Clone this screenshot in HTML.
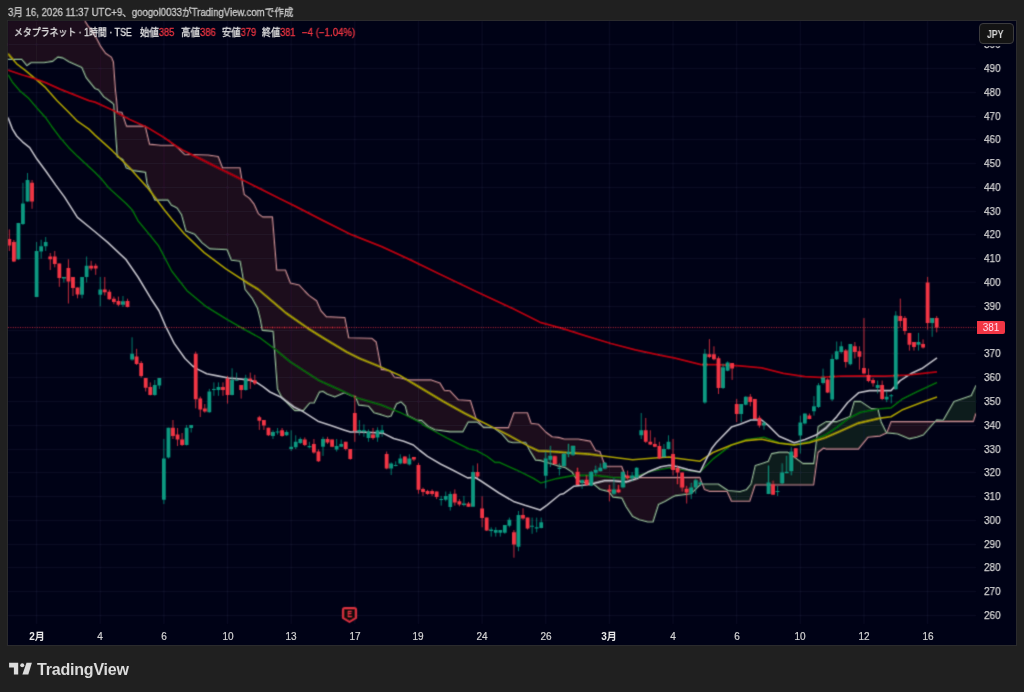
<!DOCTYPE html>
<html><head><meta charset="utf-8"><title>Metaplanet 1h</title>
<style>
html,body{margin:0;padding:0;}
.cap,.hs,.yl,.xl,.jpyt,.pl,.logo{will-change:transform;}
body{width:1024px;height:692px;background:#202020;position:relative;overflow:hidden;font-family:"Liberation Sans","Noto Sans CJK JP",sans-serif;}
.cap{position:absolute;left:8px;top:6px;font-size:10.5px;line-height:12px;color:#c8c8c8;-webkit-text-stroke:0.3px #c8c8c8;white-space:nowrap;transform:scaleX(0.914);transform-origin:0 0;}
.frame{position:absolute;left:7px;top:20px;width:1008px;height:624px;border:1px solid #2b2b2d;background:#000216;}
.hs{position:absolute;top:26.8px;font-size:10px;line-height:12px;color:#e0e0e0;-webkit-text-stroke:0.3px currentColor;white-space:nowrap;transform-origin:0 0;}
.v{color:#e83440;}
.yl{position:absolute;left:983.6px;font-size:10.5px;line-height:13px;color:#d4d4d4;transform:scaleX(0.95);transform-origin:0 0;-webkit-text-stroke:0.25px #d4d4d4;}
.xl{position:absolute;top:629.5px;width:40px;text-align:center;font-size:10px;line-height:13px;color:#d4d4d4;-webkit-text-stroke:0.2px #d4d4d4;}
.xl.b{font-weight:bold;color:#e8e8e8;-webkit-text-stroke:0;}
.jpy{position:absolute;left:979px;top:23px;width:33px;height:19px;border:1px solid #3c3c3e;border-radius:4px;background:#141414;}
.jpyt{position:absolute;left:986.6px;top:28.5px;color:#d8d8d8;font-size:10px;font-weight:bold;line-height:12px;transform:scaleX(0.87);transform-origin:0 0;}
.pl{position:absolute;left:977px;top:321px;width:28px;height:13px;background:#f23645;border-radius:0 2px 2px 0;color:#fde;font-size:10px;line-height:13px;text-align:center;}
.logo{position:absolute;left:37px;top:661px;font-size:16px;font-weight:bold;color:#dcdcdc;letter-spacing:-0.2px;}
</style></head><body>
<div class="cap">3月 16, 2026 11:37 UTC+9、googol0033がTradingView.comで作成</div>
<div class="frame"></div>
<svg width="1024" height="692" viewBox="0 0 1024 692" style="position:absolute;left:0;top:0">
<defs><clipPath id="pc"><rect x="8" y="21" width="968" height="603"/></clipPath><filter id="bl" x="0" y="0" width="1024" height="692" filterUnits="userSpaceOnUse"><feConvolveMatrix order="3" kernelMatrix="0.03 0.1 0.03 0.1 0.48 0.1 0.03 0.1 0.03" edgeMode="duplicate"/></filter></defs><g filter="url(#bl)">
<g clip-path="url(#pc)">
<path d="M8 0 L8.5 0 L9 0 L9.5 0 L10 0 L10.5 0 L11 0 L11.5 0 L12 0 L12.5 0 L13 0 L13.5 0 L14 0 L14.5 0 L15 0 L15.5 0 L16 0 L16.5 0 L17 0 L17.5 0 L18 0 L18.5 0 L19 0 L19.5 0 L20 0 L20.5 0 L21 0 L21.5 0 L22 0 L22.5 0 L23 0 L23.5 0 L24 0 L24.5 0 L25 0 L25.5 0 L26 0 L26.5 0 L27 0 L27.5 0 L28 0 L28.5 0 L29 0 L29.5 0 L30 0 L30.5 0 L31 0 L31.5 0 L32 0 L32.5 0 L33 0 L33.5 0 L34 0 L34.5 0 L35 0 L35.5 0 L36 0 L36.5 0 L37 0 L37.5 0 L38 0 L38.5 0 L39 0 L39.5 0 L40 0 L40.5 0 L41 0 L41.5 0 L42 0 L42.5 0 L43 0 L43.5 0 L44 0 L44.5 0 L45 0 L45.5 0 L46 0 L46.5 0 L47 0 L47.5 0 L48 0 L48.5 0 L49 0 L49.5 0 L50 0 L50.5 0 L51 0 L51.5 0 L52 0 L52.5 0 L53 0 L53.5 0 L54 0 L54.5 0 L55 0 L55.5 0 L56 0 L56.5 0 L57 0 L57.5 0 L58 0 L58.5 0 L59 0 L59.5 0 L60 0 L60.5 0 L61 0 L61.5 0 L62 0 L62.5 0 L63 0 L63.5 0 L64 0 L64.5 0 L65 0 L65.5 0 L66 0 L66.5 0 L67 0 L67.5 0 L68 0 L68.5 0 L69 0 L69.5 0 L70 0 L70.5 0 L71 0 L71.5 0 L72 0 L72.5 0 L73 0 L73.5 0 L74 0 L74.5 0 L75 0 L75.5 0 L76 0 L76.5 0 L77 0 L77.5 0 L78 0 L78.5 0 L79 0 L79.5 0 L80 0 L80.5 2.06 L81 4.12 L81.5 6.18 L82 8.24 L82.5 10.29 L83 12.35 L83.5 14.41 L84 16.47 L84.5 18.53 L85 20.59 L85.5 21.65 L86 22.47 L86.5 23.29 L87 24.1 L87.5 24.92 L88 25.74 L88.5 26.37 L89 26.96 L89.5 27.54 L90 28.13 L90.5 28.71 L91 29.3 L91.5 29.89 L92 30.47 L92.5 31.06 L93 31.64 L93.5 32.23 L94 32.9 L94.5 33.9 L95 34.9 L95.5 35.9 L96 36.9 L96.5 37.9 L97 38.9 L97.5 39.9 L98 40.89 L98.5 41.88 L99 42.86 L99.5 43.84 L100 44.83 L100.5 45.81 L101 46.68 L101.5 47.37 L102 48.07 L102.5 48.76 L103 49.45 L103.5 50.15 L104 50.84 L104.5 51.53 L105 52.23 L105.5 52.92 L106 53.4 L106.5 53.74 L107 54.07 L107.5 54.41 L108 54.75 L108.5 55.08 L109 55.42 L109.5 55.76 L110 56.09 L110.5 56.43 L111 56.76 L111.5 57.1 L112 58.33 L112.5 59.55 L113 60.77 L113.5 62 L114 69 L114.5 76 L115 83 L115.5 90 L116 94.33 L116.5 98.67 L117 104.64 L117.5 111.7 L118 111.76 L118.5 111.81 L119 111.87 L119.5 111.93 L120 111.98 L120.5 112.04 L121 112.1 L121.5 112.15 L122 112.5 L122.5 113.97 L123 115.45 L123.5 116.93 L124 118.41 L124.5 119.89 L125 121.37 L125.5 122.85 L126 124.33 L126.5 125.8 L127 126.1 L127.5 126.1 L128 126.1 L128.5 126.1 L129 126.1 L129.5 126.1 L130 126.1 L130.5 126.1 L131 126.1 L131.5 126.1 L132 126.1 L132.5 126.1 L133 126.1 L133.5 126.1 L134 126.1 L134.5 126.1 L135 126.1 L135.5 126.1 L136 126.1 L136.5 126.1 L137 126.1 L137.5 126.1 L138 126.1 L138.5 126.1 L139 126.1 L139.5 126.1 L140 126.1 L140.5 126.1 L141 126.1 L141.5 126.1 L142 126.1 L142.5 126.1 L143 126.1 L143.5 126.1 L144 126.1 L144.5 126.1 L145 126.1 L145.5 126.94 L146 129.03 L146.5 131.12 L147 133.22 L147.5 135.31 L148 137.4 L148.5 139.5 L149 141.59 L149.5 143.68 L150 144.14 L150.5 144.19 L151 144.24 L151.5 144.28 L152 144.33 L152.5 144.38 L153 144.43 L153.5 144.48 L154 144.53 L154.5 144.58 L155 144.63 L155.5 144.67 L156 144.72 L156.5 144.77 L157 144.82 L157.5 144.87 L158 144.92 L158.5 144.97 L159 145.02 L159.5 145.06 L160 145.11 L160.5 145.16 L161 145.2 L161.5 145.2 L162 145.2 L162.5 145.2 L163 145.2 L163.5 145.2 L164 145.2 L164.5 145.2 L165 145.2 L165.5 145.2 L166 145.2 L166.5 145.2 L167 145.2 L167.5 145.2 L168 145.2 L168.5 145.2 L169 145.2 L169.5 145.2 L170 145.2 L170.5 145.2 L171 145.2 L171.5 145.2 L172 145.2 L172.5 145.2 L173 145.2 L173.5 145.2 L174 145.2 L174.5 145.2 L175 145.2 L175.5 145.67 L176 146.14 L176.5 146.61 L177 147.08 L177.5 147.55 L178 148.01 L178.5 148.48 L179 148.95 L179.5 149.42 L180 149.89 L180.5 150.36 L181 150.83 L181.5 151.3 L182 151.77 L182.5 152.24 L183 152.71 L183.5 153.17 L184 153.64 L184.5 154.11 L185 154.31 L185.5 154.32 L186 154.34 L186.5 154.35 L187 154.37 L187.5 154.38 L188 154.4 L188.5 154.41 L189 154.43 L189.5 154.44 L190 154.46 L190.5 154.47 L191 154.49 L191.5 154.5 L192 154.51 L192.5 154.53 L193 154.54 L193.5 154.56 L194 154.57 L194.5 154.59 L195 154.6 L195.5 154.62 L196 154.63 L196.5 154.65 L197 154.66 L197.5 154.68 L198 154.69 L198.5 154.71 L199 154.72 L199.5 154.74 L200 154.75 L200.5 154.76 L201 154.78 L201.5 154.79 L202 154.81 L202.5 154.82 L203 154.84 L203.5 154.85 L204 154.87 L204.5 154.88 L205 154.9 L205.5 154.91 L206 154.93 L206.5 154.94 L207 154.96 L207.5 154.97 L208 154.99 L208.5 155 L209 155.08 L209.5 155.15 L210 155.23 L210.5 155.31 L211 155.38 L211.5 155.46 L212 155.54 L212.5 155.61 L213 155.69 L213.5 155.77 L214 155.84 L214.5 155.92 L215 155.99 L215.5 156.07 L216 156.15 L216.5 156.22 L217 156.3 L217.5 156.38 L218 156.45 L218.5 157.02 L219 158.32 L219.5 159.63 L220 160.93 L220.5 162.23 L221 163.53 L221.5 164.83 L222 166.14 L222.5 167.44 L223 167.7 L223.5 167.7 L224 167.7 L224.5 167.7 L225 167.7 L225.5 167.7 L226 167.7 L226.5 167.7 L227 167.7 L227.5 167.7 L228 167.7 L228.5 167.7 L229 167.7 L229.5 167.7 L230 167.7 L230.5 167.7 L231 167.7 L231.5 167.7 L232 167.7 L232.5 167.7 L233 167.7 L233.5 167.7 L234 167.7 L234.5 167.7 L235 167.7 L235.5 167.7 L236 167.7 L236.5 167.7 L237 167.7 L237.5 167.7 L238 167.7 L238.5 167.7 L239 167.7 L239.5 167.7 L240 167.7 L240.5 170.8 L241 173.91 L241.5 177.01 L242 180.12 L242.5 183.22 L243 186.33 L243.5 189.43 L244 192.54 L244.5 194.55 L245 194.92 L245.5 195.29 L246 195.66 L246.5 196.03 L247 196.4 L247.5 196.77 L248 197.14 L248.5 197.51 L249 197.88 L249.5 198.25 L250 198.78 L250.5 199.4 L251 200.03 L251.5 200.66 L252 201.29 L252.5 201.92 L253 202.54 L253.5 203.17 L254 203.8 L254.5 204.91 L255 206.03 L255.5 207.14 L256 208.25 L256.5 209.37 L257 210.48 L257.5 211.6 L258 212.71 L258.5 213.68 L259 214.06 L259.5 214.44 L260 214.83 L260.5 215.21 L261 215.6 L261.5 215.98 L262 216.36 L262.5 216.75 L263 216.9 L263.5 216.9 L264 216.9 L264.5 216.9 L265 216.9 L265.5 216.9 L266 216.9 L266.5 216.9 L267 216.9 L267.5 216.9 L268 216.9 L268.5 216.9 L269 216.9 L269.5 216.9 L270 216.9 L270.5 216.9 L271 216.9 L271.5 216.9 L272 216.9 L272.5 216.9 L273 223.07 L273.5 229.25 L274 235.42 L274.5 241.6 L275 247.77 L275.5 253.95 L276 260.12 L276.5 266.3 L277 270 L277.5 270 L278 270 L278.5 270 L279 270 L279.5 270 L280 270 L280.5 270 L281 270 L281.5 270 L282 270 L282.5 270 L283 270 L283.5 270 L284 270 L284.5 270 L285 270 L285.5 270 L286 271.3 L286.5 272.6 L287 273.9 L287.5 275.2 L288 276.5 L288.5 277.8 L289 279.1 L289.5 280.4 L290 281.7 L290.5 283 L291 283.11 L291.5 283.23 L292 283.34 L292.5 283.45 L293 283.57 L293.5 283.68 L294 283.8 L294.5 283.91 L295 284.02 L295.5 284.14 L296 284.25 L296.5 284.36 L297 284.48 L297.5 284.59 L298 284.7 L298.5 284.82 L299 284.93 L299.5 285.22 L300 285.76 L300.5 286.31 L301 286.85 L301.5 287.4 L302 287.95 L302.5 288.49 L303 289.04 L303.5 289.58 L304 290.13 L304.5 290.67 L305 291.2 L305.5 291.72 L306 292.23 L306.5 292.74 L307 293.25 L307.5 293.76 L308 294.27 L308.5 294.79 L309 295.3 L309.5 295.68 L310 296.04 L310.5 296.39 L311 296.75 L311.5 297.11 L312 297.46 L312.5 297.82 L313 298.17 L313.5 298.53 L314 298.88 L314.5 299.24 L315 299.59 L315.5 299.95 L316 300.3 L316.5 300.66 L317 301.48 L317.5 302.62 L318 303.76 L318.5 304.9 L319 306.04 L319.5 307.18 L320 308.32 L320.5 309.46 L321 310.6 L321.5 311.16 L322 311.71 L322.5 312.27 L323 312.82 L323.5 313.38 L324 313.93 L324.5 314.49 L325 315.04 L325.5 315.6 L326 316.16 L326.5 316.6 L327 316.63 L327.5 316.65 L328 316.68 L328.5 316.7 L329 316.73 L329.5 316.75 L330 316.78 L330.5 316.8 L331 316.82 L331.5 316.85 L332 316.87 L332.5 316.9 L333 316.92 L333.5 316.95 L334 316.97 L334.5 316.99 L335 317.02 L335.5 317.04 L336 317.07 L336.5 317.09 L337 317.12 L337.5 317.14 L338 317.16 L338.5 317.19 L339 317.21 L339.5 317.24 L340 317.26 L340.5 317.29 L341 317.31 L341.5 317.33 L342 317.36 L342.5 317.38 L343 317.41 L343.5 317.43 L344 317.46 L344.5 317.48 L345 318.02 L345.5 320.61 L346 323.2 L346.5 325.79 L347 328.38 L347.5 330.97 L348 333.56 L348.5 336.15 L349 337.71 L349.5 337.72 L350 337.73 L350.5 337.74 L351 337.76 L351.5 337.77 L352 337.78 L352.5 337.8 L353 337.81 L353.5 337.82 L354 337.83 L354.5 337.85 L355 337.86 L355.5 337.87 L356 337.89 L356.5 337.9 L357 337.91 L357.5 337.93 L358 337.94 L358.5 337.95 L359 337.96 L359.5 337.98 L360 337.99 L360.5 338 L361 338.02 L361.5 338.03 L362 338.04 L362.5 338.05 L363 338.07 L363.5 338.08 L364 338.09 L364.5 338.11 L365 338.12 L365.5 338.13 L366 338.14 L366.5 338.16 L367 338.17 L367.5 338.18 L368 338.2 L368.5 338.21 L369 338.22 L369.5 338.24 L370 338.25 L370.5 338.26 L371 338.27 L371.5 338.29 L372 338.3 L372.5 338.73 L373 339.16 L373.5 339.59 L374 340.02 L374.5 340.45 L375 340.88 L375.5 341.31 L376 341.74 L376.5 343.07 L377 345.76 L377.5 348.45 L378 351.13 L378.5 353.82 L379 356.51 L379.5 359.19 L380 361.88 L380.5 364.56 L381 367.25 L381.5 369.41 L382 369.48 L382.5 369.54 L383 369.6 L383.5 369.67 L384 369.73 L384.5 369.8 L385 369.86 L385.5 369.92 L386 369.99 L386.5 370.05 L387 370.12 L387.5 370.18 L388 370.24 L388.5 370.31 L389 370.37 L389.5 370.44 L390 370.5 L390.5 371.24 L391 371.98 L391.5 372.72 L392 373.45 L392.5 374.19 L393 374.93 L393.5 375.67 L394 376.41 L394.5 377.02 L395 377.09 L395.5 377.17 L396 377.25 L396.5 377.32 L397 377.4 L397.5 377.48 L398 377.55 L398.5 377.63 L399 377.71 L399.5 377.78 L400 377.86 L400.5 377.94 L401 378.02 L401.5 378.15 L402 378.27 L402.5 378.39 L403 378.51 L403.5 378.63 L404 378.76 L404.5 378.88 L405 379 L405.5 379.12 L406 379.24 L406.5 379.36 L407 379.49 L407.5 379.61 L408 379.73 L408.5 379.85 L409 379.9 L409.5 379.9 L410 379.9 L410.5 379.9 L411 379.9 L411.5 379.9 L412 379.9 L412.5 379.9 L413 379.9 L413.5 379.9 L414 379.9 L414.5 379.9 L415 379.9 L415.5 379.9 L416 379.9 L416.5 379.9 L417 379.9 L417.5 379.9 L418 379.9 L418.5 379.9 L419 379.9 L419.5 379.9 L420 379.9 L420.5 379.9 L421 379.9 L421.5 379.9 L422 379.9 L422.5 379.9 L423 379.9 L423.5 379.9 L424 379.9 L424.5 379.9 L425 379.9 L425.5 379.9 L426 379.9 L426.5 379.9 L427 379.9 L427.5 379.9 L428 379.9 L428.5 379.9 L429 379.9 L429.5 379.9 L430 379.9 L430.5 379.9 L431 379.9 L431.5 379.94 L432 380.12 L432.5 380.3 L433 380.49 L433.5 380.67 L434 380.86 L434.5 381.04 L435 381.22 L435.5 381.41 L436 381.59 L436.5 381.78 L437 381.96 L437.5 382.14 L438 382.33 L438.5 382.51 L439 382.7 L439.5 382.88 L440 383.06 L440.5 383.77 L441 384.61 L441.5 385.44 L442 386.28 L442.5 387.12 L443 387.96 L443.5 388.79 L444 389.63 L444.5 390.31 L445 390.34 L445.5 390.38 L446 390.42 L446.5 390.45 L447 390.49 L447.5 390.53 L448 390.56 L448.5 390.6 L449 390.63 L449.5 390.67 L450 390.81 L450.5 391.33 L451 391.86 L451.5 392.39 L452 392.92 L452.5 393.45 L453 393.98 L453.5 394.51 L454 395.04 L454.5 395.57 L455 396.1 L455.5 396.63 L456 397.15 L456.5 397.68 L457 398.21 L457.5 398.74 L458 399.27 L458.5 399.8 L459 399.83 L459.5 399.86 L460 399.89 L460.5 399.92 L461 399.95 L461.5 399.98 L462 400 L462.5 400.03 L463 400.06 L463.5 400.09 L464 400.12 L464.5 400.15 L465 400.18 L465.5 400.21 L466 400.24 L466.5 400.27 L467 400.3 L467.5 400.32 L468 400.35 L468.5 400.38 L469 400.41 L469.5 400.44 L470 400.47 L470.5 400.5 L471 402.1 L471.5 403.7 L472 405.31 L472.5 406.91 L473 408.51 L473.5 410.11 L474 411.71 L474.5 413.31 L475 414.92 L475.5 416.52 L476 417.93 L476.5 418.57 L477 419.22 L477.5 419.86 L478 420.51 L478.5 421.15 L479 421.8 L479.5 422.44 L480 423.09 L480.5 423.73 L481 424.38 L481.5 425.02 L482 425.67 L482.5 426.31 L483 426.96 L483.5 427.6 L484 427.6 L484.5 427.6 L485 427.6 L485.5 427.6 L486 427.6 L486.5 427.6 L487 427.6 L487.5 427.6 L488 427.6 L488.5 427.6 L489 427.6 L489.5 427.6 L490 427.6 L490.5 427.6 L491 427.6 L491.5 427.6 L492 427.6 L492.5 427.6 L493 427.6 L493.5 427.6 L494 427.6 L494.5 427.6 L495 427.6 L495.5 427.6 L496 427.6 L496.5 427.6 L497 427.6 L497.5 427.6 L498 427.6 L498.5 427.6 L499 427.6 L499.5 427.6 L500 427.6 L500.5 427.6 L501 427.6 L501.5 427.6 L502 427.6 L502.5 427.6 L503 427.6 L503.5 427.6 L504 427.6 L504.5 427.6 L505 427.6 L505.5 427.6 L506 427.6 L506.5 427.6 L507 427.6 L507.5 427.6 L508 427.6 L508.5 427.33 L509 425.96 L509.5 424.59 L510 423.21 L510.5 421.84 L511 420.47 L511.5 419.1 L512 417.73 L512.5 416.36 L513 414.99 L513.5 413.62 L514 412.8 L514.5 412.8 L515 412.8 L515.5 412.8 L516 412.8 L516.5 412.8 L517 412.8 L517.5 412.8 L518 412.8 L518.5 412.8 L519 412.8 L519.5 412.8 L520 412.8 L520.5 412.8 L521 412.8 L521.5 412.8 L522 412.8 L522.5 412.8 L523 412.8 L523.5 412.8 L524 412.8 L524.5 412.8 L525 412.8 L525.5 412.8 L526 412.8 L526.5 412.8 L527 412.8 L527.5 412.8 L528 414.21 L528.5 415.61 L529 417.02 L529.5 418.42 L530 419.83 L530.5 421.23 L531 422.64 L531.5 423.24 L532 423.32 L532.5 423.39 L533 423.46 L533.5 423.54 L534 423.61 L534.5 423.68 L535 423.76 L535.5 423.83 L536 423.9 L536.5 423.98 L537 424.05 L537.5 424.12 L538 424.2 L538.5 424.27 L539 424.63 L539.5 425.17 L540 425.71 L540.5 426.25 L541 426.79 L541.5 427.34 L542 427.88 L542.5 428.42 L543 428.96 L543.5 429.51 L544 430.05 L544.5 430.59 L545 431.13 L545.5 431.67 L546 432.15 L546.5 432.52 L547 432.89 L547.5 433.26 L548 433.62 L548.5 433.99 L549 434.36 L549.5 434.73 L550 435.1 L550.5 435.47 L551 435.84 L551.5 436.21 L552 436.58 L552.5 436.82 L553 436.86 L553.5 436.91 L554 436.96 L554.5 437 L555 437.05 L555.5 437.1 L556 437.14 L556.5 437.19 L557 437.23 L557.5 437.28 L558 437.33 L558.5 437.37 L559 437.46 L559.5 437.6 L560 437.75 L560.5 437.89 L561 438.04 L561.5 438.19 L562 438.33 L562.5 438.48 L563 438.62 L563.5 438.77 L564 438.91 L564.5 439 L565 439 L565.5 439 L566 439 L566.5 439 L567 439 L567.5 439 L568 439 L568.5 439 L569 439 L569.5 439 L570 439 L570.5 439 L571 439 L571.5 439 L572 439 L572.5 439 L573 439 L573.5 439 L574 439 L574.5 439 L575 439 L575.5 439 L576 439 L576.5 439 L577 439 L577.5 439 L578 439 L578.5 439.02 L579 439.11 L579.5 439.19 L580 439.28 L580.5 439.37 L581 439.46 L581.5 439.55 L582 439.64 L582.5 439.72 L583 439.81 L583.5 439.9 L584 439.99 L584.5 440.08 L585 440.16 L585.5 440.25 L586 440.34 L586.5 440.43 L587 440.52 L587.5 440.61 L588 440.69 L588.5 440.78 L589 440.87 L589.5 440.96 L590 441.05 L590.5 441.45 L591 442.32 L591.5 443.19 L592 444.06 L592.5 444.93 L593 445.8 L593.5 446.67 L594 447.54 L594.5 448.41 L595 449.28 L595.5 450.15 L596 450.57 L596.5 450.69 L597 450.8 L597.5 450.92 L598 451.03 L598.5 451.15 L599 451.27 L599.5 451.38 L600 451.5 L600.5 452.9 L601 454.29 L601.5 455.69 L602 457.09 L602.5 458.49 L603 459.88 L603.5 461.28 L604 462.55 L604.5 463.3 L605 464.05 L605.5 464.8 L606 465.55 L606.5 466.3 L607 466.3 L607.5 466.3 L608 466.3 L608.5 466.3 L609 466.3 L609.5 466.3 L610 466.3 L610.5 466.3 L611 466.3 L611.5 466.3 L612 466.3 L612.5 466.3 L613 466.3 L613.5 466.3 L614 466.3 L614.5 466.3 L615 466.3 L615.5 466.3 L616 466.3 L616.5 466.3 L617 466.3 L617.5 466.3 L618 466.3 L618.5 466.3 L619 466.3 L619.5 466.3 L620 466.3 L620.5 466.3 L621 466.3 L621.5 466.3 L622 467.08 L622.5 468.38 L623 469.69 L623.5 470.99 L624 472.29 L624.5 473.59 L625 474.9 L625.5 476.2 L626 477.5 L626.5 477.5 L627 477.5 L627.5 477.5 L628 477.5 L628.5 477.5 L629 477.5 L629.5 477.5 L630 477.49 L630.5 477.49 L631 477.49 L631.5 477.49 L632 477.49 L632.5 477.49 L633 477.49 L633.5 477.49 L634 477.49 L634.5 477.49 L635 477.49 L635.5 477.49 L636 477.49 L636.5 477.49 L637 477.49 L637.5 477.48 L638 477.48 L638.5 477.48 L639 477.48 L639.5 477.48 L640 477.48 L640.5 477.48 L641 477.48 L641.5 477.48 L642 477.48 L642.5 477.48 L643 477.48 L643.5 477.48 L644 477.48 L644.5 477.47 L645 477.47 L645.5 477.47 L646 477.47 L646.5 477.47 L647 477.47 L647.5 477.47 L648 477.47 L648.5 477.47 L649 477.47 L649.5 477.47 L650 477.47 L650.5 477.47 L651 477.47 L651.5 477.47 L652 477.46 L652.5 477.46 L653 477.46 L653.5 477.46 L654 477.46 L654.5 477.46 L655 477.46 L655.5 477.46 L656 477.46 L656.5 477.46 L657 477.46 L657.5 477.46 L658 477.46 L658.5 477.46 L659 477.46 L659.5 477.45 L660 477.45 L660.5 477.45 L661 477.45 L661.5 477.45 L662 477.45 L662.5 477.45 L663 477.45 L663.5 477.45 L664 477.45 L664.5 477.45 L665 477.45 L665.5 477.45 L666 477.45 L666.5 477.45 L667 477.44 L667.5 477.44 L668 477.44 L668.5 477.44 L669 477.44 L669.5 477.44 L670 477.44 L670.5 477.44 L671 477.44 L671.5 477.44 L672 477.44 L672.5 477.44 L673 477.44 L673.5 477.44 L674 477.44 L674.5 477.43 L675 477.43 L675.5 477.43 L676 477.43 L676.5 477.43 L677 477.43 L677.5 477.43 L678 477.43 L678.5 477.43 L679 477.43 L679.5 477.43 L680 477.43 L680.5 477.43 L681 477.43 L681.5 477.42 L682 477.42 L682.5 477.42 L683 477.42 L683.5 477.42 L684 477.42 L684.5 477.42 L685 477.42 L685.5 477.42 L686 477.42 L686.5 477.42 L687 477.42 L687.5 477.42 L688 477.42 L688.5 477.42 L689 477.41 L689.5 477.41 L690 477.41 L690.5 477.41 L691 477.41 L691.5 477.41 L692 477.41 L692.5 477.41 L693 477.41 L693.5 477.41 L694 477.41 L694.5 477.41 L695 477.41 L695.5 477.41 L696 477.41 L696.5 477.4 L697 477.4 L697.5 477.4 L698 477.4 L698.5 477.4 L699 477.4 L699.5 477.4 L700 477.67 L700.5 479.04 L701 480.4 L701.5 481.76 L702 483.13 L702.5 484.49 L703 485.85 L703.5 487.22 L704 488.58 L704.5 489.48 L705 489.67 L705.5 489.87 L706 490.06 L706.5 490.26 L707 490.45 L707.5 490.64 L708 490.84 L708.5 491.03 L709 491.23 L709.5 491.42 L710 491.5 L710.5 491.5 L711 491.5 L711.5 491.5 L712 491.5 L712.5 491.5 L713 491.5 L713.5 491.5 L714 491.5 L714.5 491.5 L715 491.5 L715.5 491.5 L716 491.5 L716.5 491.5 L717 491.5 L717.5 491.5 L718 491.5 L718.5 491.5 L719 491.5 L719.5 491.5 L720 491.5 L720.5 491.5 L721 491.5 L721.5 491.5 L722 491.5 L722.5 491.5 L723 491.5 L723.5 491.5 L724 491.5 L724.5 491.5 L725 491.5 L725.5 491.5 L726 491.5 L726.5 491.5 L727 491.5 L727.5 492.61 L728 493.73 L728.5 494.84 L729 495.95 L729.5 497.07 L730 498.18 L730.5 499.3 L731 500.41 L731.5 501.3 L732 501.3 L732.5 501.3 L733 501.3 L733.5 501.3 L734 501.3 L734.5 501.3 L735 501.3 L735.5 501.3 L736 501.3 L736.5 501.3 L737 501.3 L737.5 501.3 L738 501.3 L738.5 501.3 L739 501.3 L739.5 501.3 L740 501.3 L740.5 501.3 L741 501.3 L741.5 501.3 L742 501.3 L742.5 501.3 L743 501.3 L743.5 501.3 L744 501.3 L744.5 501.3 L745 501.3 L745.5 501.3 L746 501.3 L746.5 501.3 L747 501.3 L747.5 501.3 L748 501.3 L748.5 501.3 L749 501.3 L749.5 501.3 L750 500.7 L750.5 499.19 L751 497.68 L751.5 496.17 L752 494.66 L752.5 493.15 L753 491.64 L753.5 490.13 L754 488.62 L754.5 487.11 L755 485.6 L755.5 485 L756 485 L756.5 485 L757 485 L757.5 485 L758 485 L758.5 485 L759 485 L759.5 485 L760 485 L760.5 485 L761 485 L761.5 485 L762 485 L762.5 485 L763 485 L763.5 485 L764 485 L764.5 485 L765 485 L765.5 485 L766 485 L766.5 485 L767 485 L767.5 485 L768 485 L768.5 485 L769 485 L769.5 485 L770 485 L770.5 485 L771 485 L771.5 485 L772 485 L772.5 485 L773 485 L773.5 485 L774 485 L774.5 485 L775 485 L775.5 485 L776 485 L776.5 485 L777 485 L777.5 485 L778 485 L778.5 485 L779 485 L779.5 485 L780 485 L780.5 485 L781 485 L781.5 485 L782 485 L782.5 485 L783 485 L783.5 485 L784 485 L784.5 485 L785 485 L785.5 485 L786 485 L786.5 485 L787 485 L787.5 485 L788 485 L788.5 485 L789 485 L789.5 485 L790 485 L790.5 485 L791 485 L791.5 485 L792 485 L792.5 485 L793 485 L793.5 485 L794 485 L794.5 485 L795 485 L795.5 485 L796 485 L796.5 485 L797 485 L797.5 485 L798 485 L798.5 485 L799 485 L799.5 485 L800 485 L800.5 485 L801 485 L801.5 485 L802 485 L802.5 485 L803 485 L803.5 485 L804 485 L804.5 485 L805 485 L805.5 485 L806 485 L806.5 485 L807 485 L807.5 485 L808 485 L808.5 485 L809 485 L809.5 485 L810 485 L810.5 485 L811 485 L811.5 485 L812 485 L812.5 485 L813 485 L813.5 485 L814 482.78 L814.5 479.09 L815 475.4 L815.5 471.7 L816 468.01 L816.5 464.32 L817 460.63 L817.5 456.93 L818 453.24 L818.5 452.18 L819 451.78 L819.5 451.39 L820 450.99 L820.5 450.59 L821 450.19 L821.5 449.79 L822 449.39 L822.5 449 L823 448.6 L823.5 448.2 L824 448.38 L824.5 448.56 L825 448.74 L825.5 448.92 L826 449.1 L826.5 449.1 L827 449.1 L827.5 449.1 L828 449.1 L828.5 449.1 L829 449.1 L829.5 449.1 L830 449.1 L830.5 449.1 L831 449.1 L831.5 449.1 L832 449.1 L832.5 449.1 L833 449.1 L833.5 449.1 L834 449.1 L834.5 449.1 L835 449.1 L835.5 449.1 L836 449.1 L836.5 449.1 L837 449.1 L837.5 449.1 L838 449.1 L838.5 449.1 L839 449.1 L839.5 449.1 L840 449.1 L840.5 449.1 L841 449.1 L841.5 449.1 L842 449.1 L842.5 449.1 L843 449.1 L843.5 449.1 L844 449.1 L844.5 449.1 L845 449.1 L845.5 449.1 L846 449.1 L846.5 449.1 L847 449.1 L847.5 449.1 L848 449.1 L848.5 449.1 L849 449.1 L849.5 449.1 L850 449.1 L850.5 449.1 L851 449.1 L851.5 449.1 L852 449.1 L852.5 449.1 L853 449.1 L853.5 449.1 L854 449.1 L854.5 449.1 L855 449.1 L855.5 449.1 L856 449.1 L856.5 449.1 L857 449.1 L857.5 449.1 L858 449.1 L858.5 449.1 L859 448.49 L859.5 447.89 L860 447.28 L860.5 446.67 L861 446.06 L861.5 445.46 L862 444.85 L862.5 444.24 L863 443.64 L863.5 443.03 L864 442.42 L864.5 441.81 L865 441.21 L865.5 440.6 L866 439.99 L866.5 439.39 L867 438.78 L867.5 438.17 L868 437.56 L868.5 437.18 L869 437.14 L869.5 437.09 L870 437.04 L870.5 437 L871 436.95 L871.5 436.9 L872 436.86 L872.5 436.81 L873 436.77 L873.5 436.72 L874 436.67 L874.5 436.63 L875 436.58 L875.5 436.53 L876 436.49 L876.5 436.44 L877 436.4 L877.5 436.35 L878 436.3 L878.5 436.26 L879 436.21 L879.5 436.16 L880 436.12 L880.5 435.95 L881 435.71 L881.5 435.46 L882 435.21 L882.5 434.97 L883 434.72 L883.5 434.48 L884 434.23 L884.5 433.98 L885 433.74 L885.5 433.49 L886 433.24 L886.5 433 L887 432.11 L887.5 430.8 L888 429.48 L888.5 428.17 L889 426.86 L889.5 425.54 L890 424.23 L890.5 422.91 L891 421.6 L891.5 421.6 L892 421.6 L892.5 421.6 L893 421.6 L893.5 421.6 L894 421.6 L894.5 421.6 L895 421.6 L895.5 421.6 L896 421.6 L896.5 421.6 L897 421.6 L897.5 421.6 L898 421.6 L898.5 421.6 L899 421.6 L899.5 421.6 L900 421.6 L900.5 421.6 L901 421.6 L901.5 421.6 L902 421.6 L902.5 421.6 L903 421.6 L903.5 421.6 L904 421.6 L904.5 421.6 L905 421.6 L905.5 421.6 L906 421.6 L906.5 421.6 L907 421.6 L907.5 421.6 L908 421.6 L908.5 421.6 L909 421.6 L909.5 421.6 L910 421.6 L910.5 421.6 L911 421.6 L911.5 421.6 L912 421.6 L912.5 421.6 L913 421.6 L913.5 421.6 L914 421.6 L914.5 421.6 L915 421.6 L915.5 421.6 L916 421.6 L916.5 421.6 L917 421.6 L917.5 421.6 L918 421.6 L918.5 421.6 L919 421.6 L919.5 421.6 L920 421.6 L920.5 421.6 L921 421.6 L921.5 421.6 L922 421.6 L922.5 421.6 L923 421.6 L923.5 421.6 L924 421.6 L924.5 421.6 L925 421.6 L925.5 421.6 L926 421.6 L926.5 421.6 L927 421.6 L927.5 421.6 L928 421.6 L928.5 421.6 L929 421.6 L929.5 421.6 L930 421.6 L930.5 421.6 L931 421.6 L931.5 421.6 L932 421.6 L932.5 421.6 L933 421.6 L933.5 421.6 L934 421.6 L934.5 421.6 L935 421.6 L935.5 421.6 L936 421.6 L936.5 421.6 L937 421.6 L937.5 421.6 L938 421.6 L938.5 421.6 L939 421.6 L939.5 421.6 L940 421.6 L940.5 421.6 L941 421.6 L941.5 421.6 L942 421.6 L942.5 421.6 L943 421.6 L943.5 421.6 L944 421.6 L944.5 421.6 L945 421.6 L945.5 421.6 L946 421.6 L946.5 421.6 L947 421.6 L947.5 421.6 L948 421.6 L948.5 421.6 L949 421.6 L949.5 421.6 L950 421.6 L950.5 421.6 L951 421.6 L951.5 421.6 L952 421.6 L952.5 421.6 L953 421.6 L953.5 421.6 L954 421.6 L954.5 421.6 L955 421.6 L955.5 421.6 L956 421.6 L956.5 421.6 L957 421.6 L957.5 421.6 L958 421.6 L958.5 421.6 L959 421.6 L959.5 421.6 L960 421.6 L960.5 421.6 L961 421.6 L961.5 421.6 L962 421.6 L962.5 421.6 L963 421.6 L963.5 421.6 L964 421.6 L964.5 421.6 L965 421.6 L965.5 421.6 L966 421.6 L966.5 421.6 L967 421.6 L967.5 421.6 L968 421.6 L968.5 421.6 L969 421.6 L969.5 421.6 L970 421.6 L970.5 421.6 L971 421.6 L971.5 421.6 L972 421.6 L972.5 421.6 L973 421.6 L973.5 421.28 L974 419.71 L974.5 418.13 L975 416.55 L975.5 414.98 L976 413.4 L976 413.4 L975.5 414.98 L975 416.55 L974.5 418.13 L974 419.71 L973.5 421.28 L973 421.6 L972.5 421.6 L972 421.6 L971.5 421.6 L971 421.6 L970.5 421.6 L970 421.6 L969.5 421.6 L969 421.6 L968.5 421.6 L968 421.6 L967.5 421.6 L967 421.6 L966.5 421.6 L966 421.6 L965.5 421.6 L965 421.6 L964.5 421.6 L964 421.6 L963.5 421.6 L963 421.6 L962.5 421.6 L962 421.6 L961.5 421.6 L961 421.6 L960.5 421.6 L960 421.6 L959.5 421.6 L959 421.6 L958.5 421.6 L958 421.6 L957.5 421.6 L957 421.6 L956.5 421.6 L956 421.6 L955.5 421.6 L955 421.6 L954.5 421.6 L954 421.6 L953.5 421.6 L953 421.6 L952.5 421.6 L952 421.6 L951.5 421.6 L951 421.6 L950.5 421.6 L950 421.6 L949.5 421.6 L949 421.6 L948.5 421.6 L948 421.6 L947.5 421.6 L947 421.6 L946.5 421.6 L946 421.6 L945.5 421.6 L945 421.6 L944.5 421.6 L944 421.6 L943.5 421.6 L943 421.6 L942.5 421.6 L942 421.6 L941.5 421.6 L941 421.6 L940.5 421.6 L940 421.6 L939.5 421.6 L939 421.6 L938.5 421.6 L938 421.6 L937.5 421.6 L937 421.6 L936.5 421.6 L936 421.6 L935.5 421.6 L935 421.74 L934.5 422.32 L934 422.9 L933.5 423.47 L933 424.05 L932.5 424.63 L932 425.2 L931.5 425.78 L931 426.35 L930.5 426.93 L930 427.51 L929.5 428.08 L929 428.66 L928.5 429.24 L928 429.81 L927.5 430.39 L927 430.97 L926.5 431.54 L926 432.12 L925.5 432.69 L925 433.27 L924.5 433.85 L924 434.42 L923.5 435 L923 435.17 L922.5 435.34 L922 435.51 L921.5 435.68 L921 435.85 L920.5 436.02 L920 436.18 L919.5 436.35 L919 436.52 L918.5 436.69 L918 436.86 L917.5 437.03 L917 437.2 L916.5 437.31 L916 437.43 L915.5 437.54 L915 437.65 L914.5 437.77 L914 437.88 L913.5 437.99 L913 438.11 L912.5 438.22 L912 438.33 L911.5 438.45 L911 438.56 L910.5 438.67 L910 438.79 L909.5 438.9 L909 438.7 L908.5 438.49 L908 438.29 L907.5 438.08 L907 437.88 L906.5 437.67 L906 437.47 L905.5 437.27 L905 437.06 L904.5 436.86 L904 436.65 L903.5 436.45 L903 436.25 L902.5 436.04 L902 435.84 L901.5 435.63 L901 435.43 L900.5 435.23 L900 435.02 L899.5 434.82 L899 434.61 L898.5 434.41 L898 434.2 L897.5 434 L897 433.95 L896.5 433.9 L896 433.85 L895.5 433.8 L895 433.75 L894.5 433.69 L894 433.64 L893.5 433.59 L893 433.54 L892.5 433.49 L892 433.44 L891.5 433.39 L891 433.34 L890.5 433.29 L890 433.24 L889.5 433.19 L889 433.13 L888.5 433.08 L888 433.03 L887.5 432.98 L887 432.93 L886.5 433 L886 433.24 L885.5 433.49 L885 433.74 L884.5 433.98 L884 434.23 L883.5 434.48 L883 434.72 L882.5 434.97 L882 435.21 L881.5 435.46 L881 435.71 L880.5 435.95 L880 436.12 L879.5 436.16 L879 436.21 L878.5 436.26 L878 436.3 L877.5 436.35 L877 436.4 L876.5 436.44 L876 436.49 L875.5 436.53 L875 436.58 L874.5 436.63 L874 436.67 L873.5 436.72 L873 436.77 L872.5 436.81 L872 436.86 L871.5 436.9 L871 436.95 L870.5 437 L870 437.04 L869.5 437.09 L869 437.14 L868.5 437.18 L868 437.56 L867.5 438.17 L867 438.78 L866.5 439.39 L866 439.99 L865.5 440.6 L865 441.21 L864.5 441.81 L864 442.42 L863.5 443.03 L863 443.64 L862.5 444.24 L862 444.85 L861.5 445.46 L861 446.06 L860.5 446.67 L860 447.28 L859.5 447.89 L859 448.49 L858.5 449.1 L858 449.1 L857.5 449.1 L857 449.1 L856.5 449.1 L856 449.1 L855.5 449.1 L855 449.1 L854.5 449.1 L854 449.1 L853.5 449.1 L853 449.1 L852.5 449.1 L852 449.1 L851.5 449.1 L851 449.1 L850.5 449.1 L850 449.1 L849.5 449.1 L849 449.1 L848.5 449.1 L848 449.1 L847.5 449.1 L847 449.1 L846.5 449.1 L846 449.1 L845.5 449.1 L845 449.1 L844.5 449.1 L844 449.1 L843.5 449.1 L843 449.1 L842.5 449.1 L842 449.1 L841.5 449.1 L841 449.1 L840.5 449.1 L840 449.1 L839.5 449.1 L839 449.1 L838.5 449.1 L838 449.1 L837.5 449.1 L837 449.1 L836.5 449.1 L836 449.1 L835.5 449.1 L835 449.1 L834.5 449.1 L834 449.1 L833.5 449.1 L833 449.1 L832.5 449.1 L832 449.1 L831.5 449.1 L831 449.1 L830.5 449.1 L830 449.1 L829.5 449.1 L829 449.1 L828.5 449.1 L828 449.1 L827.5 449.1 L827 449.1 L826.5 449.1 L826 449.1 L825.5 448.92 L825 448.74 L824.5 448.56 L824 448.38 L823.5 448.2 L823 448.6 L822.5 449 L822 449.39 L821.5 449.79 L821 450.19 L820.5 450.59 L820 450.99 L819.5 451.39 L819 451.78 L818.5 452.18 L818 453.24 L817.5 456.93 L817 460.63 L816.5 464.32 L816 468.01 L815.5 471.7 L815 475.4 L814.5 479.09 L814 482.78 L813.5 485 L813 485 L812.5 485 L812 485 L811.5 485 L811 485 L810.5 485 L810 485 L809.5 485 L809 485 L808.5 485 L808 485 L807.5 485 L807 485 L806.5 485 L806 485 L805.5 485 L805 485 L804.5 485 L804 485 L803.5 485 L803 485 L802.5 485 L802 485 L801.5 485 L801 485 L800.5 485 L800 485 L799.5 485 L799 485 L798.5 485 L798 485 L797.5 485 L797 485 L796.5 485 L796 485 L795.5 485 L795 485 L794.5 485 L794 485 L793.5 485 L793 485 L792.5 485 L792 485 L791.5 485 L791 485 L790.5 485 L790 485 L789.5 485 L789 485 L788.5 485 L788 485 L787.5 485 L787 485 L786.5 485 L786 485 L785.5 485 L785 485 L784.5 485 L784 485 L783.5 485 L783 485 L782.5 485 L782 485 L781.5 485 L781 485 L780.5 485 L780 485 L779.5 485 L779 485 L778.5 485 L778 485 L777.5 485 L777 485 L776.5 485 L776 485 L775.5 485 L775 485 L774.5 485 L774 485 L773.5 485 L773 485 L772.5 485 L772 485 L771.5 485 L771 485 L770.5 485 L770 485 L769.5 485 L769 485 L768.5 485 L768 485 L767.5 485 L767 485 L766.5 485 L766 485 L765.5 485 L765 485 L764.5 485 L764 485 L763.5 485 L763 485 L762.5 485 L762 485 L761.5 485 L761 485 L760.5 485 L760 485 L759.5 485 L759 485 L758.5 485 L758 485 L757.5 485 L757 485 L756.5 485 L756 485 L755.5 485 L755 485.6 L754.5 487.11 L754 488.62 L753.5 490.13 L753 491.64 L752.5 493.15 L752 494.66 L751.5 496.17 L751 497.68 L750.5 499.19 L750 500.7 L749.5 501.3 L749 501.3 L748.5 501.3 L748 501.3 L747.5 501.3 L747 501.3 L746.5 501.3 L746 501.3 L745.5 501.3 L745 501.3 L744.5 501.3 L744 501.3 L743.5 501.3 L743 501.3 L742.5 501.3 L742 501.3 L741.5 501.3 L741 501.3 L740.5 501.3 L740 501.3 L739.5 501.3 L739 501.3 L738.5 501.3 L738 501.3 L737.5 501.3 L737 501.3 L736.5 501.3 L736 501.3 L735.5 501.3 L735 501.3 L734.5 501.3 L734 501.3 L733.5 501.3 L733 501.3 L732.5 501.3 L732 501.3 L731.5 501.3 L731 500.41 L730.5 499.3 L730 498.18 L729.5 497.07 L729 495.95 L728.5 494.84 L728 493.73 L727.5 492.61 L727 491.5 L726.5 491.5 L726 491.5 L725.5 491.5 L725 491.5 L724.5 491.5 L724 491.5 L723.5 491.5 L723 491.5 L722.5 491.5 L722 491.5 L721.5 491.5 L721 491.5 L720.5 491.5 L720 491.5 L719.5 491.5 L719 491.5 L718.5 491.5 L718 491.5 L717.5 491.5 L717 491.5 L716.5 491.5 L716 491.5 L715.5 491.5 L715 491.5 L714.5 491.5 L714 491.5 L713.5 491.5 L713 491.5 L712.5 491.5 L712 491.5 L711.5 491.5 L711 491.5 L710.5 491.5 L710 491.5 L709.5 491.42 L709 491.23 L708.5 491.03 L708 490.84 L707.5 490.64 L707 490.45 L706.5 490.26 L706 490.06 L705.5 489.87 L705 489.67 L704.5 489.48 L704 488.58 L703.5 487.22 L703 485.85 L702.5 484.49 L702 484 L701.5 484 L701 484 L700.5 484.5 L700 485 L699.5 485.5 L699 486 L698.5 486.5 L698 487 L697.5 487.5 L697 488 L696.5 488.5 L696 489 L695.5 489.5 L695 490 L694.5 490.5 L694 491 L693.5 491.5 L693 492 L692.5 492.5 L692 493 L691.5 493.5 L691 493.74 L690.5 493.81 L690 493.88 L689.5 493.94 L689 494.01 L688.5 494.08 L688 494.15 L687.5 494.21 L687 494.28 L686.5 494.35 L686 494.42 L685.5 494.48 L685 494.55 L684.5 494.62 L684 494.69 L683.5 494.75 L683 494.82 L682.5 494.89 L682 494.96 L681.5 495.02 L681 495.09 L680.5 495.16 L680 495.23 L679.5 495.29 L679 495.36 L678.5 495.43 L678 495.5 L677.5 495.56 L677 495.63 L676.5 495.7 L676 495.77 L675.5 495.83 L675 495.9 L674.5 496.16 L674 496.42 L673.5 496.68 L673 496.94 L672.5 497.21 L672 497.49 L671.5 497.77 L671 498.05 L670.5 498.33 L670 498.61 L669.5 498.89 L669 499.17 L668.5 499.45 L668 499.72 L667.5 500 L667 500.28 L666.5 500.56 L666 500.84 L665.5 501.12 L665 501.4 L664.5 501.65 L664 501.9 L663.5 502.15 L663 502.4 L662.5 502.65 L662 502.9 L661.5 503.15 L661 503.4 L660.5 503.65 L660 503.9 L659.5 504.15 L659 504.4 L658.5 504.92 L658 506.5 L657.5 508.08 L657 509.66 L656.5 511.24 L656 512.83 L655.5 514.41 L655 515.99 L654.5 517.57 L654 519.15 L653.5 520.73 L653 522 L652.5 522 L652 522 L651.5 522 L651 522 L650.5 522 L650 522 L649.5 522 L649 522 L648.5 522 L648 522 L647.5 521.95 L647 521.82 L646.5 521.69 L646 521.57 L645.5 521.44 L645 521.31 L644.5 521.18 L644 521.05 L643.5 520.93 L643 520.8 L642.5 520.67 L642 520.54 L641.5 520.41 L641 520.29 L640.5 520.16 L640 520.03 L639.5 519.9 L639 519.75 L638.5 519.5 L638 519.26 L637.5 519.01 L637 518.77 L636.5 518.52 L636 518.27 L635.5 518.03 L635 517.78 L634.5 517.54 L634 517.29 L633.5 517.04 L633 516.8 L632.5 516.45 L632 515.71 L631.5 514.97 L631 514.22 L630.5 513.48 L630 512.74 L629.5 512 L629 511.25 L628.5 510.51 L628 509.77 L627.5 509.03 L627 508.28 L626.5 507.54 L626 506.8 L625.5 505.79 L625 504.78 L624.5 503.77 L624 502.75 L623.5 501.74 L623 500.73 L622.5 499.72 L622 498.71 L621.5 498.08 L621 498.02 L620.5 497.96 L620 497.9 L619.5 497.85 L619 497.79 L618.5 497.73 L618 497.67 L617.5 497.62 L617 497.56 L616.5 497.5 L616 497.44 L615.5 497.39 L615 497.33 L614.5 497.27 L614 497.21 L613.5 497.16 L613 497.1 L612.5 496.46 L612 495.82 L611.5 495.18 L611 494.54 L610.5 493.9 L610 493.26 L609.5 492.62 L609 491.98 L608.5 491.55 L608 491.43 L607.5 491.31 L607 491.19 L606.5 491.07 L606 490.95 L605.5 490.83 L605 490.71 L604.5 490.59 L604 490.47 L603.5 490.34 L603 490.22 L602.5 490.1 L602 489.98 L601.5 489.86 L601 489.74 L600.5 489.62 L600 489.5 L599.5 489.08 L599 488.67 L598.5 488.25 L598 487.84 L597.5 487.42 L597 487.01 L596.5 486.59 L596 486.18 L595.5 485.76 L595 485.35 L594.5 484.93 L594 484.52 L593.5 484.1 L593 484.02 L592.5 483.93 L592 483.85 L591.5 483.76 L591 483.68 L590.5 483.59 L590 483.51 L589.5 483.42 L589 483.34 L588.5 483.25 L588 483.17 L587.5 483.08 L587 483 L586.5 482.92 L586 482.83 L585.5 482.75 L585 482.66 L584.5 482.58 L584 482.49 L583.5 482.41 L583 482.32 L582.5 482.24 L582 482.15 L581.5 482.07 L581 481.98 L580.5 481.9 L580 481.52 L579.5 481.13 L579 480.75 L578.5 480.37 L578 479.98 L577.5 479.6 L577 479.21 L576.5 478.83 L576 478.3 L575.5 477.54 L575 476.79 L574.5 476.03 L574 475.27 L573.5 474.52 L573 473.76 L572.5 473.01 L572 472.25 L571.5 471.84 L571 471.51 L570.5 471.19 L570 470.86 L569.5 470.54 L569 470.21 L568.5 469.88 L568 469.56 L567.5 469.23 L567 468.91 L566.5 468.58 L566 468.26 L565.5 467.93 L565 467.72 L564.5 467.6 L564 467.47 L563.5 467.34 L563 467.21 L562.5 467.08 L562 466.96 L561.5 466.83 L561 466.7 L560.5 466.57 L560 466.44 L559.5 466.32 L559 466.19 L558.5 466.06 L558 465.93 L557.5 465.8 L557 465.68 L556.5 465.54 L556 465.37 L555.5 465.21 L555 465.05 L554.5 464.89 L554 464.73 L553.5 464.57 L553 464.4 L552.5 464.24 L552 464.08 L551.5 463.92 L551 463.76 L550.5 463.6 L550 463.44 L549.5 463.29 L549 463.14 L548.5 463 L548 462.85 L547.5 462.7 L547 462.55 L546.5 462.41 L546 462.26 L545.5 462.11 L545 461.96 L544.5 461.81 L544 461.67 L543.5 461.52 L543 461.37 L542.5 461.22 L542 461.07 L541.5 460.93 L541 460.78 L540.5 460.63 L540 460.56 L539.5 460.51 L539 460.46 L538.5 460.41 L538 460.36 L537.5 460.3 L537 460.25 L536.5 460.2 L536 460.15 L535.5 460.1 L535 459.29 L534.5 458.49 L534 457.68 L533.5 456.88 L533 456.07 L532.5 455.27 L532 454.46 L531.5 453.66 L531 452.85 L530.5 452.04 L530 451.2 L529.5 450.21 L529 449.22 L528.5 448.24 L528 447.25 L527.5 446.26 L527 445.27 L526.5 444.28 L526 443.29 L525.5 442.7 L525 442.7 L524.5 442.7 L524 442.7 L523.5 442.7 L523 442.7 L522.5 442.7 L522 442.7 L521.5 442.7 L521 442.7 L520.5 442.7 L520 442.7 L519.5 442.7 L519 442.7 L518.5 442.7 L518 442.7 L517.5 442.7 L517 442.7 L516.5 442.7 L516 442.7 L515.5 442.7 L515 442.7 L514.5 442.7 L514 442.7 L513.5 442.7 L513 442.7 L512.5 442.65 L512 442.52 L511.5 442.39 L511 442.27 L510.5 442.14 L510 442.01 L509.5 441.88 L509 441.75 L508.5 441.63 L508 441.14 L507.5 440.56 L507 439.98 L506.5 439.41 L506 438.83 L505.5 438.25 L505 437.68 L504.5 437.1 L504 436.52 L503.5 435.95 L503 435.37 L502.5 434.79 L502 434.22 L501.5 433.8 L501 433.43 L500.5 433.05 L500 432.68 L499.5 432.31 L499 431.93 L498.5 431.56 L498 431.19 L497.5 430.81 L497 430.44 L496.5 430.07 L496 429.69 L495.5 429.32 L495 428.94 L494.5 428.57 L494 428.2 L493.5 427.82 L493 427.6 L492.5 427.6 L492 427.6 L491.5 427.6 L491 427.6 L490.5 427.6 L490 427.6 L489.5 427.6 L489 427.6 L488.5 427.6 L488 427.6 L487.5 427.6 L487 427.6 L486.5 427.6 L486 427.6 L485.5 427.6 L485 427.6 L484.5 427.6 L484 427.6 L483.5 427.6 L483 426.96 L482.5 426.33 L482 425.95 L481.5 425.56 L481 425.18 L480.5 424.79 L480 424.41 L479.5 424.02 L479 423.64 L478.5 423.25 L478 422.87 L477.5 422.48 L477 422.1 L476.5 422.1 L476 422.1 L475.5 422.1 L475 422.1 L474.5 422.1 L474 422.1 L473.5 422.1 L473 422.1 L472.5 422.1 L472 422.1 L471.5 422.1 L471 422.1 L470.5 422.1 L470 422.1 L469.5 422.1 L469 422.1 L468.5 422.1 L468 422.64 L467.5 423.55 L467 424.46 L466.5 425.37 L466 426.27 L465.5 427.18 L465 428.09 L464.5 429 L464 429.9 L463.5 430.81 L463 431.72 L462.5 431.9 L462 431.9 L461.5 431.9 L461 431.9 L460.5 431.9 L460 431.9 L459.5 431.9 L459 431.9 L458.5 431.9 L458 431.9 L457.5 431.9 L457 431.9 L456.5 431.9 L456 431.9 L455.5 431.9 L455 431.9 L454.5 431.9 L454 431.9 L453.5 431.9 L453 431.9 L452.5 431.9 L452 431.9 L451.5 431.9 L451 431.9 L450.5 431.9 L450 431.9 L449.5 431.84 L449 431.77 L448.5 431.7 L448 431.62 L447.5 431.55 L447 431.48 L446.5 431.41 L446 431.34 L445.5 431.26 L445 431.19 L444.5 431.12 L444 431.05 L443.5 430.97 L443 430.9 L442.5 430.83 L442 430.76 L441.5 430.68 L441 430.61 L440.5 430.54 L440 430.47 L439.5 430.39 L439 430.32 L438.5 430.25 L438 430.18 L437.5 430.11 L437 430.03 L436.5 429.96 L436 429.89 L435.5 429.82 L435 429.74 L434.5 429.6 L434 429.36 L433.5 429.11 L433 428.86 L432.5 428.62 L432 428.37 L431.5 428.12 L431 427.88 L430.5 427.63 L430 427.39 L429.5 427.14 L429 426.89 L428.5 426.65 L428 426.32 L427.5 425.86 L427 425.41 L426.5 424.96 L426 424.5 L425.5 424.05 L425 423.6 L424.5 423.14 L424 422.69 L423.5 422.23 L423 421.78 L422.5 421.33 L422 420.87 L421.5 420.58 L421 420.52 L420.5 420.47 L420 420.41 L419.5 420.36 L419 420.3 L418.5 420.24 L418 420.19 L417.5 420.13 L417 420.08 L416.5 420.02 L416 419.85 L415.5 419.6 L415 419.34 L414.5 419.09 L414 418.84 L413.5 418.58 L413 418.33 L412.5 418.08 L412 417.83 L411.5 417.57 L411 417.32 L410.5 417.07 L410 416.81 L409.5 416.56 L409 416.31 L408.5 416.06 L408 415.8 L407.5 415.21 L407 413.25 L406.5 411.29 L406 409.33 L405.5 407.38 L405 406 L404.5 405.5 L404 405 L403.5 404.5 L403 404 L402.5 403.5 L402 403 L401.5 402.5 L401 402 L400.5 402.1 L400 402.34 L399.5 402.58 L399 402.83 L398.5 403.07 L398 403.32 L397.5 403.56 L397 403.8 L396.5 404.22 L396 405.33 L395.5 406.44 L395 407.56 L394.5 408.67 L394 409.78 L393.5 410.89 L393 412 L392.5 413.11 L392 414.22 L391.5 415.33 L391 416.06 L390.5 416.21 L390 416.36 L389.5 416.52 L389 416.67 L388.5 416.82 L388 416.97 L387.5 416.87 L387 416.71 L386.5 416.55 L386 416.39 L385.5 416.22 L385 416.06 L384.5 415.9 L384 415.74 L383.5 415.58 L383 415.42 L382.5 415.26 L382 415.09 L381.5 414.93 L381 414.78 L380.5 414.64 L380 414.49 L379.5 414.35 L379 414.21 L378.5 414.06 L378 413.92 L377.5 413.77 L377 413.63 L376.5 413.48 L376 413.34 L375.5 413.19 L375 413.05 L374.5 412.9 L374 412.76 L373.5 412.34 L373 411.74 L372.5 411.14 L372 410.53 L371.5 409.93 L371 409.33 L370.5 408.73 L370 408.13 L369.5 407.52 L369 406.92 L368.5 406.32 L368 406.16 L367.5 406.1 L367 406.04 L366.5 405.99 L366 405.93 L365.5 405.87 L365 405.82 L364.5 405.76 L364 405.71 L363.5 405.65 L363 405.59 L362.5 405.54 L362 405.48 L361.5 405.43 L361 405.37 L360.5 405.31 L360 405.26 L359.5 405.2 L359 405.14 L358.5 404.83 L358 403.49 L357.5 402.14 L357 400.8 L356.5 399.46 L356 398.11 L355.5 396.77 L355 396.44 L354.5 396.36 L354 396.28 L353.5 396.2 L353 396.12 L352.5 396.04 L352 395.96 L351.5 395.88 L351 395.8 L350.5 395.57 L350 395.34 L349.5 395.11 L349 394.88 L348.5 394.65 L348 394.42 L347.5 394.18 L347 393.95 L346.5 393.72 L346 393.49 L345.5 393.26 L345 393.03 L344.5 392.8 L344 393.02 L343.5 393.24 L343 393.46 L342.5 393.69 L342 393.91 L341.5 394.13 L341 394.35 L340.5 394.57 L340 394.79 L339.5 395.02 L339 395.24 L338.5 395.46 L338 395.68 L337.5 395.9 L337 396.12 L336.5 396.35 L336 396.57 L335.5 396.79 L335 397.01 L334.5 396.99 L334 396.81 L333.5 396.62 L333 396.44 L332.5 396.25 L332 396.07 L331.5 395.88 L331 395.7 L330.5 395.52 L330 395.33 L329.5 395.15 L329 394.96 L328.5 394.78 L328 394.59 L327.5 394.41 L327 394.17 L326.5 393.84 L326 393.52 L325.5 393.19 L325 392.87 L324.5 392.54 L324 392.22 L323.5 391.89 L323 391.57 L322.5 391.57 L322 391.66 L321.5 391.75 L321 391.85 L320.5 391.94 L320 392.03 L319.5 392.3 L319 393.31 L318.5 394.32 L318 395.33 L317.5 396.34 L317 397.35 L316.5 398.36 L316 399.37 L315.5 400.38 L315 401.39 L314.5 402.39 L314 403 L313.5 403 L313 403 L312.5 403 L312 403 L311.5 403 L311 403 L310.5 403 L310 403 L309.5 403.47 L309 404.05 L308.5 404.64 L308 405.22 L307.5 405.81 L307 406.39 L306.5 406.98 L306 407.56 L305.5 408.14 L305 408.73 L304.5 409.31 L304 409.9 L303.5 410.48 L303 410.6 L302.5 410.6 L302 410.6 L301.5 410.6 L301 410.6 L300.5 410.6 L300 410.6 L299.5 410.6 L299 410.6 L298.5 410.6 L298 410.6 L297.5 410.6 L297 410.6 L296.5 410.6 L296 410.6 L295.5 410.6 L295 410.6 L294.5 410.4 L294 409.89 L293.5 409.39 L293 408.89 L292.5 408.38 L292 407.88 L291.5 407.38 L291 406.87 L290.5 406.37 L290 405.86 L289.5 405.36 L289 404.86 L288.5 404.35 L288 403.85 L287.5 403.34 L287 402.84 L286.5 402.34 L286 401.83 L285.5 401.33 L285 400.83 L284.5 400.32 L284 399.82 L283.5 399.31 L283 398.81 L282.5 398.31 L282 397.8 L281.5 397.11 L281 396.13 L280.5 395.15 L280 394.18 L279.5 393.2 L279 392.22 L278.5 391.25 L278 390.27 L277.5 389.29 L277 384.89 L276.5 378.2 L276 371.52 L275.5 364.83 L275 358.14 L274.5 351.46 L274 344.77 L273.5 338.09 L273 331.4 L272.5 331.35 L272 331.31 L271.5 331.26 L271 331.21 L270.5 331.17 L270 331.12 L269.5 331.08 L269 331.03 L268.5 330.98 L268 330.94 L267.5 330.89 L267 330.84 L266.5 330.8 L266 330.75 L265.5 330.71 L265 330.66 L264.5 330.61 L264 330.57 L263.5 330.52 L263 330.47 L262.5 330.43 L262 329.31 L261.5 326.58 L261 323.85 L260.5 321.13 L260 318.4 L259.5 316.46 L259 314.51 L258.5 312.57 L258 310.62 L257.5 308.68 L257 307.36 L256.5 306.45 L256 305.54 L255.5 304.63 L255 303.73 L254.5 302.82 L254 301.91 L253.5 301 L253 300.1 L252.5 299.19 L252 298.28 L251.5 297.6 L251 296.98 L250.5 296.36 L250 295.73 L249.5 295.11 L249 294.49 L248.5 293.86 L248 293.24 L247.5 292.62 L247 291.99 L246.5 291.37 L246 290.75 L245.5 290.12 L245 289.5 L244.5 286.68 L244 283.86 L243.5 281.04 L243 278.22 L242.5 275.4 L242 272.58 L241.5 269.76 L241 266.94 L240.5 264.12 L240 261.3 L239.5 261.24 L239 261.17 L238.5 261.11 L238 261.05 L237.5 260.98 L237 260.92 L236.5 260.86 L236 260.79 L235.5 260.73 L235 260.67 L234.5 260.6 L234 260.54 L233.5 260.48 L233 260.41 L232.5 260.35 L232 260.29 L231.5 260.23 L231 259.47 L230.5 258.27 L230 257.06 L229.5 255.85 L229 254.64 L228.5 253.43 L228 252.22 L227.5 251.01 L227 249.8 L226.5 249.77 L226 249.75 L225.5 249.72 L225 249.7 L224.5 249.67 L224 249.64 L223.5 249.62 L223 249.59 L222.5 249.57 L222 249.54 L221.5 249.52 L221 249.49 L220.5 249.46 L220 249.44 L219.5 249.41 L219 249.39 L218.5 249.36 L218 249.33 L217.5 249.31 L217 249.28 L216.5 249.26 L216 249.23 L215.5 249.21 L215 249.18 L214.5 249.15 L214 249.13 L213.5 249.1 L213 249.08 L212.5 249.05 L212 249.02 L211.5 249 L211 248.97 L210.5 248.95 L210 248.92 L209.5 248.82 L209 248.43 L208.5 248.03 L208 247.64 L207.5 247.24 L207 246.85 L206.5 246.45 L206 246.06 L205.5 245.66 L205 245.27 L204.5 244.87 L204 244.48 L203.5 244.08 L203 243.69 L202.5 243.29 L202 242.9 L201.5 242.33 L201 241.76 L200.5 241.18 L200 240.61 L199.5 240.04 L199 239.47 L198.5 238.89 L198 238.32 L197.5 237.75 L197 237.18 L196.5 236.6 L196 236.03 L195.5 235.46 L195 234.89 L194.5 234.31 L194 234.05 L193.5 233.85 L193 233.66 L192.5 233.47 L192 233.28 L191.5 233.09 L191 232.9 L190.5 232.7 L190 232.51 L189.5 232.32 L189 232.13 L188.5 231.94 L188 231.74 L187.5 231.55 L187 231.36 L186.5 231.17 L186 230.98 L185.5 229.8 L185 227.95 L184.5 226.11 L184 224.27 L183.5 222.43 L183 220.59 L182.5 218.75 L182 216.91 L181.5 215.07 L181 214.1 L180.5 213.34 L180 212.58 L179.5 211.83 L179 211.07 L178.5 210.32 L178 209.56 L177.5 208.8 L177 208.15 L176.5 207.89 L176 207.62 L175.5 207.36 L175 207.1 L174.5 206.86 L174 206.61 L173.5 206.37 L173 206.13 L172.5 205.88 L172 205.64 L171.5 205.4 L171 204.85 L170.5 204.11 L170 203.37 L169.5 202.63 L169 201.88 L168.5 201.14 L168 200.4 L167.5 200.1 L167 200.1 L166.5 200.1 L166 200.1 L165.5 200.1 L165 200.1 L164.5 200.1 L164 200.1 L163.5 200.1 L163 200.1 L162.5 200.1 L162 200.1 L161.5 200.1 L161 200.1 L160.5 200.1 L160 200.1 L159.5 200.1 L159 200.1 L158.5 200.1 L158 200.1 L157.5 200.1 L157 200.1 L156.5 200.1 L156 200.1 L155.5 200.1 L155 200.1 L154.5 199.41 L154 198.25 L153.5 197.1 L153 195.95 L152.5 194.79 L152 193.7 L151.5 192.7 L151 191.7 L150.5 190.7 L150 189.7 L149.5 188.7 L149 187.7 L148.5 186.7 L148 185.7 L147.5 184.7 L147 183.7 L146.5 180.38 L146 177.05 L145.5 173.73 L145 172.36 L144.5 172.28 L144 172.21 L143.5 172.13 L143 172.06 L142.5 171.98 L142 171.91 L141.5 171.83 L141 171.76 L140.5 171.69 L140 171.61 L139.5 171.54 L139 171.46 L138.5 171.39 L138 171.31 L137.5 171.24 L137 171.17 L136.5 171.09 L136 171.02 L135.5 170.94 L135 170.87 L134.5 170.79 L134 170.72 L133.5 170.64 L133 170.53 L132.5 170.34 L132 170.15 L131.5 169.97 L131 169.78 L130.5 169.6 L130 169.41 L129.5 169.23 L129 169.04 L128.5 168.85 L128 168.67 L127.5 168.48 L127 168.3 L126.5 168.11 L126 167.51 L125.5 166.28 L125 165.05 L124.5 163.82 L124 162.59 L123.5 161.37 L123 160.14 L122.5 159.31 L122 159.07 L121.5 158.83 L121 158.6 L120.5 158.36 L120 158.12 L119.5 157.89 L119 157.65 L118.5 157.41 L118 157.18 L117.5 156.94 L117 154.05 L116.5 147.16 L116 140.28 L115.5 133.4 L115 125.43 L114.5 117.46 L114 109.48 L113.5 104.46 L113 103.85 L112.5 103.24 L112 102.79 L111.5 102.43 L111 102.08 L110.5 101.72 L110 101.37 L109.5 101.01 L109 100.66 L108.5 100.3 L108 99.95 L107.5 99.6 L107 99.24 L106.5 98.89 L106 98.53 L105.5 98.18 L105 97.82 L104.5 97.47 L104 97.11 L103.5 96.63 L103 95.97 L102.5 95.31 L102 94.64 L101.5 93.98 L101 93.32 L100.5 92.65 L100 91.99 L99.5 91.33 L99 90.66 L98.5 90 L98 89.79 L97.5 89.58 L97 89.37 L96.5 89.16 L96 88.95 L95.5 88.74 L95 88.53 L94.5 88.15 L94 87.53 L93.5 86.91 L93 86.29 L92.5 85.67 L92 85.05 L91.5 84.43 L91 83.81 L90.5 83.19 L90 82.57 L89.5 81.94 L89 81.32 L88.5 80.7 L88 80.08 L87.5 79.46 L87 78.84 L86.5 78.22 L86 77.6 L85.5 76.43 L85 75.25 L84.5 74.08 L84 72.9 L83.5 71.73 L83 70.55 L82.5 69.38 L82 68.2 L81.5 67.42 L81 67.21 L80.5 67 L80 66.8 L79.5 66.59 L79 66.38 L78.5 66.16 L78 65.94 L77.5 65.71 L77 65.48 L76.5 65.25 L76 65.02 L75.5 64.8 L75 64.57 L74.5 64.34 L74 64.11 L73.5 63.89 L73 63.66 L72.5 63.43 L72 63.2 L71.5 62.98 L71 62.75 L70.5 62.52 L70 62.29 L69.5 62.06 L69 61.84 L68.5 61.58 L68 61.27 L67.5 60.96 L67 60.64 L66.5 60.33 L66 60.02 L65.5 59.71 L65 59.4 L64.5 59.09 L64 58.78 L63.5 58.47 L63 58.16 L62.5 58.02 L62 57.92 L61.5 57.82 L61 57.72 L60.5 57.62 L60 57.52 L59.5 57.42 L59 57.32 L58.5 57.22 L58 57.12 L57.5 57.44 L57 57.86 L56.5 58.28 L56 58.7 L55.5 59.12 L55 59.55 L54.5 59.97 L54 60.39 L53.5 60.81 L53 61.23 L52.5 61.45 L52 61.53 L51.5 61.61 L51 61.69 L50.5 61.77 L50 61.85 L49.5 61.93 L49 62.01 L48.5 62.09 L48 62.17 L47.5 62.25 L47 62.33 L46.5 62.41 L46 62.49 L45.5 62.57 L45 62.66 L44.5 62.74 L44 62.8 L43.5 62.8 L43 62.8 L42.5 62.8 L42 62.8 L41.5 62.8 L41 62.8 L40.5 62.8 L40 62.8 L39.5 62.8 L39 62.8 L38.5 62.8 L38 62.8 L37.5 62.8 L37 62.8 L36.5 62.8 L36 62.8 L35.5 62.8 L35 62.8 L34.5 62.8 L34 62.8 L33.5 62.8 L33 62.8 L32.5 62.8 L32 62.8 L31.5 62.8 L31 62.87 L30.5 63.2 L30 63.54 L29.5 63.88 L29 64.22 L28.5 64.55 L28 64.89 L27.5 65.23 L27 65.57 L26.5 65.34 L26 64.73 L25.5 64.12 L25 63.51 L24.5 62.9 L24 62.3 L23.5 61.69 L23 61.08 L22.5 60.47 L22 59.86 L21.5 59.5 L21 59.5 L20.5 59.5 L20 59.5 L19.5 59.5 L19 59.5 L18.5 59.5 L18 59.5 L17.5 59.5 L17 59.5 L16.5 59.5 L16 59.5 L15.5 59.5 L15 59.5 L14.5 59.5 L14 59.5 L13.5 59.5 L13 59.5 L12.5 59.5 L12 59.5 L11.5 59.5 L11 59.5 L10.5 59.5 L10 59.5 L9.5 59.5 L9 59.5 L8.5 59.5 L8 59.5 Z" fill="#1d0a1c"/>
<path d="M8 59.5 L8.5 59.5 L9 59.5 L9.5 59.5 L10 59.5 L10.5 59.5 L11 59.5 L11.5 59.5 L12 59.5 L12.5 59.5 L13 59.5 L13.5 59.5 L14 59.5 L14.5 59.5 L15 59.5 L15.5 59.5 L16 59.5 L16.5 59.5 L17 59.5 L17.5 59.5 L18 59.5 L18.5 59.5 L19 59.5 L19.5 59.5 L20 59.5 L20.5 59.5 L21 59.5 L21.5 59.5 L22 59.86 L22.5 60.47 L23 61.08 L23.5 61.69 L24 62.3 L24.5 62.9 L25 63.51 L25.5 64.12 L26 64.73 L26.5 65.34 L27 65.57 L27.5 65.23 L28 64.89 L28.5 64.55 L29 64.22 L29.5 63.88 L30 63.54 L30.5 63.2 L31 62.87 L31.5 62.8 L32 62.8 L32.5 62.8 L33 62.8 L33.5 62.8 L34 62.8 L34.5 62.8 L35 62.8 L35.5 62.8 L36 62.8 L36.5 62.8 L37 62.8 L37.5 62.8 L38 62.8 L38.5 62.8 L39 62.8 L39.5 62.8 L40 62.8 L40.5 62.8 L41 62.8 L41.5 62.8 L42 62.8 L42.5 62.8 L43 62.8 L43.5 62.8 L44 62.8 L44.5 62.74 L45 62.66 L45.5 62.57 L46 62.49 L46.5 62.41 L47 62.33 L47.5 62.25 L48 62.17 L48.5 62.09 L49 62.01 L49.5 61.93 L50 61.85 L50.5 61.77 L51 61.69 L51.5 61.61 L52 61.53 L52.5 61.45 L53 61.23 L53.5 60.81 L54 60.39 L54.5 59.97 L55 59.55 L55.5 59.12 L56 58.7 L56.5 58.28 L57 57.86 L57.5 57.44 L58 57.12 L58.5 57.22 L59 57.32 L59.5 57.42 L60 57.52 L60.5 57.62 L61 57.72 L61.5 57.82 L62 57.92 L62.5 58.02 L63 58.16 L63.5 58.47 L64 58.78 L64.5 59.09 L65 59.4 L65.5 59.71 L66 60.02 L66.5 60.33 L67 60.64 L67.5 60.96 L68 61.27 L68.5 61.58 L69 61.84 L69.5 62.06 L70 62.29 L70.5 62.52 L71 62.75 L71.5 62.98 L72 63.2 L72.5 63.43 L73 63.66 L73.5 63.89 L74 64.11 L74.5 64.34 L75 64.57 L75.5 64.8 L76 65.02 L76.5 65.25 L77 65.48 L77.5 65.71 L78 65.94 L78.5 66.16 L79 66.38 L79.5 66.59 L80 66.8 L80.5 67 L81 67.21 L81.5 67.42 L82 68.2 L82.5 69.38 L83 70.55 L83.5 71.73 L84 72.9 L84.5 74.08 L85 75.25 L85.5 76.43 L86 77.6 L86.5 78.22 L87 78.84 L87.5 79.46 L88 80.08 L88.5 80.7 L89 81.32 L89.5 81.94 L90 82.57 L90.5 83.19 L91 83.81 L91.5 84.43 L92 85.05 L92.5 85.67 L93 86.29 L93.5 86.91 L94 87.53 L94.5 88.15 L95 88.53 L95.5 88.74 L96 88.95 L96.5 89.16 L97 89.37 L97.5 89.58 L98 89.79 L98.5 90 L99 90.66 L99.5 91.33 L100 91.99 L100.5 92.65 L101 93.32 L101.5 93.98 L102 94.64 L102.5 95.31 L103 95.97 L103.5 96.63 L104 97.11 L104.5 97.47 L105 97.82 L105.5 98.18 L106 98.53 L106.5 98.89 L107 99.24 L107.5 99.6 L108 99.95 L108.5 100.3 L109 100.66 L109.5 101.01 L110 101.37 L110.5 101.72 L111 102.08 L111.5 102.43 L112 102.79 L112.5 103.24 L113 103.85 L113.5 104.46 L114 109.48 L114.5 117.46 L115 125.43 L115.5 133.4 L116 140.28 L116.5 147.16 L117 154.05 L117.5 156.94 L118 157.18 L118.5 157.41 L119 157.65 L119.5 157.89 L120 158.12 L120.5 158.36 L121 158.6 L121.5 158.83 L122 159.07 L122.5 159.31 L123 160.14 L123.5 161.37 L124 162.59 L124.5 163.82 L125 165.05 L125.5 166.28 L126 167.51 L126.5 168.11 L127 168.3 L127.5 168.48 L128 168.67 L128.5 168.85 L129 169.04 L129.5 169.23 L130 169.41 L130.5 169.6 L131 169.78 L131.5 169.97 L132 170.15 L132.5 170.34 L133 170.53 L133.5 170.64 L134 170.72 L134.5 170.79 L135 170.87 L135.5 170.94 L136 171.02 L136.5 171.09 L137 171.17 L137.5 171.24 L138 171.31 L138.5 171.39 L139 171.46 L139.5 171.54 L140 171.61 L140.5 171.69 L141 171.76 L141.5 171.83 L142 171.91 L142.5 171.98 L143 172.06 L143.5 172.13 L144 172.21 L144.5 172.28 L145 172.36 L145.5 173.73 L146 177.05 L146.5 180.38 L147 183.7 L147.5 184.7 L148 185.7 L148.5 186.7 L149 187.7 L149.5 188.7 L150 189.7 L150.5 190.7 L151 191.7 L151.5 192.7 L152 193.7 L152.5 194.79 L153 195.95 L153.5 197.1 L154 198.25 L154.5 199.41 L155 200.1 L155.5 200.1 L156 200.1 L156.5 200.1 L157 200.1 L157.5 200.1 L158 200.1 L158.5 200.1 L159 200.1 L159.5 200.1 L160 200.1 L160.5 200.1 L161 200.1 L161.5 200.1 L162 200.1 L162.5 200.1 L163 200.1 L163.5 200.1 L164 200.1 L164.5 200.1 L165 200.1 L165.5 200.1 L166 200.1 L166.5 200.1 L167 200.1 L167.5 200.1 L168 200.4 L168.5 201.14 L169 201.88 L169.5 202.63 L170 203.37 L170.5 204.11 L171 204.85 L171.5 205.4 L172 205.64 L172.5 205.88 L173 206.13 L173.5 206.37 L174 206.61 L174.5 206.86 L175 207.1 L175.5 207.36 L176 207.62 L176.5 207.89 L177 208.15 L177.5 208.8 L178 209.56 L178.5 210.32 L179 211.07 L179.5 211.83 L180 212.58 L180.5 213.34 L181 214.1 L181.5 215.07 L182 216.91 L182.5 218.75 L183 220.59 L183.5 222.43 L184 224.27 L184.5 226.11 L185 227.95 L185.5 229.8 L186 230.98 L186.5 231.17 L187 231.36 L187.5 231.55 L188 231.74 L188.5 231.94 L189 232.13 L189.5 232.32 L190 232.51 L190.5 232.7 L191 232.9 L191.5 233.09 L192 233.28 L192.5 233.47 L193 233.66 L193.5 233.85 L194 234.05 L194.5 234.31 L195 234.89 L195.5 235.46 L196 236.03 L196.5 236.6 L197 237.18 L197.5 237.75 L198 238.32 L198.5 238.89 L199 239.47 L199.5 240.04 L200 240.61 L200.5 241.18 L201 241.76 L201.5 242.33 L202 242.9 L202.5 243.29 L203 243.69 L203.5 244.08 L204 244.48 L204.5 244.87 L205 245.27 L205.5 245.66 L206 246.06 L206.5 246.45 L207 246.85 L207.5 247.24 L208 247.64 L208.5 248.03 L209 248.43 L209.5 248.82 L210 248.92 L210.5 248.95 L211 248.97 L211.5 249 L212 249.02 L212.5 249.05 L213 249.08 L213.5 249.1 L214 249.13 L214.5 249.15 L215 249.18 L215.5 249.21 L216 249.23 L216.5 249.26 L217 249.28 L217.5 249.31 L218 249.33 L218.5 249.36 L219 249.39 L219.5 249.41 L220 249.44 L220.5 249.46 L221 249.49 L221.5 249.52 L222 249.54 L222.5 249.57 L223 249.59 L223.5 249.62 L224 249.64 L224.5 249.67 L225 249.7 L225.5 249.72 L226 249.75 L226.5 249.77 L227 249.8 L227.5 251.01 L228 252.22 L228.5 253.43 L229 254.64 L229.5 255.85 L230 257.06 L230.5 258.27 L231 259.47 L231.5 260.23 L232 260.29 L232.5 260.35 L233 260.41 L233.5 260.48 L234 260.54 L234.5 260.6 L235 260.67 L235.5 260.73 L236 260.79 L236.5 260.86 L237 260.92 L237.5 260.98 L238 261.05 L238.5 261.11 L239 261.17 L239.5 261.24 L240 261.3 L240.5 264.12 L241 266.94 L241.5 269.76 L242 272.58 L242.5 275.4 L243 278.22 L243.5 281.04 L244 283.86 L244.5 286.68 L245 289.5 L245.5 290.12 L246 290.75 L246.5 291.37 L247 291.99 L247.5 292.62 L248 293.24 L248.5 293.86 L249 294.49 L249.5 295.11 L250 295.73 L250.5 296.36 L251 296.98 L251.5 297.6 L252 298.28 L252.5 299.19 L253 300.1 L253.5 301 L254 301.91 L254.5 302.82 L255 303.73 L255.5 304.63 L256 305.54 L256.5 306.45 L257 307.36 L257.5 308.68 L258 310.62 L258.5 312.57 L259 314.51 L259.5 316.46 L260 318.4 L260.5 321.13 L261 323.85 L261.5 326.58 L262 329.31 L262.5 330.43 L263 330.47 L263.5 330.52 L264 330.57 L264.5 330.61 L265 330.66 L265.5 330.71 L266 330.75 L266.5 330.8 L267 330.84 L267.5 330.89 L268 330.94 L268.5 330.98 L269 331.03 L269.5 331.08 L270 331.12 L270.5 331.17 L271 331.21 L271.5 331.26 L272 331.31 L272.5 331.35 L273 331.4 L273.5 338.09 L274 344.77 L274.5 351.46 L275 358.14 L275.5 364.83 L276 371.52 L276.5 378.2 L277 384.89 L277.5 389.29 L278 390.27 L278.5 391.25 L279 392.22 L279.5 393.2 L280 394.18 L280.5 395.15 L281 396.13 L281.5 397.11 L282 397.8 L282.5 398.31 L283 398.81 L283.5 399.31 L284 399.82 L284.5 400.32 L285 400.83 L285.5 401.33 L286 401.83 L286.5 402.34 L287 402.84 L287.5 403.34 L288 403.85 L288.5 404.35 L289 404.86 L289.5 405.36 L290 405.86 L290.5 406.37 L291 406.87 L291.5 407.38 L292 407.88 L292.5 408.38 L293 408.89 L293.5 409.39 L294 409.89 L294.5 410.4 L295 410.6 L295.5 410.6 L296 410.6 L296.5 410.6 L297 410.6 L297.5 410.6 L298 410.6 L298.5 410.6 L299 410.6 L299.5 410.6 L300 410.6 L300.5 410.6 L301 410.6 L301.5 410.6 L302 410.6 L302.5 410.6 L303 410.6 L303.5 410.48 L304 409.9 L304.5 409.31 L305 408.73 L305.5 408.14 L306 407.56 L306.5 406.98 L307 406.39 L307.5 405.81 L308 405.22 L308.5 404.64 L309 404.05 L309.5 403.47 L310 403 L310.5 403 L311 403 L311.5 403 L312 403 L312.5 403 L313 403 L313.5 403 L314 403 L314.5 402.39 L315 401.39 L315.5 400.38 L316 399.37 L316.5 398.36 L317 397.35 L317.5 396.34 L318 395.33 L318.5 394.32 L319 393.31 L319.5 392.3 L320 392.03 L320.5 391.94 L321 391.85 L321.5 391.75 L322 391.66 L322.5 391.57 L323 391.57 L323.5 391.89 L324 392.22 L324.5 392.54 L325 392.87 L325.5 393.19 L326 393.52 L326.5 393.84 L327 394.17 L327.5 394.41 L328 394.59 L328.5 394.78 L329 394.96 L329.5 395.15 L330 395.33 L330.5 395.52 L331 395.7 L331.5 395.88 L332 396.07 L332.5 396.25 L333 396.44 L333.5 396.62 L334 396.81 L334.5 396.99 L335 397.01 L335.5 396.79 L336 396.57 L336.5 396.35 L337 396.12 L337.5 395.9 L338 395.68 L338.5 395.46 L339 395.24 L339.5 395.02 L340 394.79 L340.5 394.57 L341 394.35 L341.5 394.13 L342 393.91 L342.5 393.69 L343 393.46 L343.5 393.24 L344 393.02 L344.5 392.8 L345 393.03 L345.5 393.26 L346 393.49 L346.5 393.72 L347 393.95 L347.5 394.18 L348 394.42 L348.5 394.65 L349 394.88 L349.5 395.11 L350 395.34 L350.5 395.57 L351 395.8 L351.5 395.88 L352 395.96 L352.5 396.04 L353 396.12 L353.5 396.2 L354 396.28 L354.5 396.36 L355 396.44 L355.5 396.77 L356 398.11 L356.5 399.46 L357 400.8 L357.5 402.14 L358 403.49 L358.5 404.83 L359 405.14 L359.5 405.2 L360 405.26 L360.5 405.31 L361 405.37 L361.5 405.43 L362 405.48 L362.5 405.54 L363 405.59 L363.5 405.65 L364 405.71 L364.5 405.76 L365 405.82 L365.5 405.87 L366 405.93 L366.5 405.99 L367 406.04 L367.5 406.1 L368 406.16 L368.5 406.32 L369 406.92 L369.5 407.52 L370 408.13 L370.5 408.73 L371 409.33 L371.5 409.93 L372 410.53 L372.5 411.14 L373 411.74 L373.5 412.34 L374 412.76 L374.5 412.9 L375 413.05 L375.5 413.19 L376 413.34 L376.5 413.48 L377 413.63 L377.5 413.77 L378 413.92 L378.5 414.06 L379 414.21 L379.5 414.35 L380 414.49 L380.5 414.64 L381 414.78 L381.5 414.93 L382 415.09 L382.5 415.26 L383 415.42 L383.5 415.58 L384 415.74 L384.5 415.9 L385 416.06 L385.5 416.22 L386 416.39 L386.5 416.55 L387 416.71 L387.5 416.87 L388 416.97 L388.5 416.82 L389 416.67 L389.5 416.52 L390 416.36 L390.5 416.21 L391 416.06 L391.5 415.33 L392 414.22 L392.5 413.11 L393 412 L393.5 410.89 L394 409.78 L394.5 408.67 L395 407.56 L395.5 406.44 L396 405.33 L396.5 404.22 L397 403.8 L397.5 403.56 L398 403.32 L398.5 403.07 L399 402.83 L399.5 402.58 L400 402.34 L400.5 402.1 L401 402 L401.5 402.5 L402 403 L402.5 403.5 L403 404 L403.5 404.5 L404 405 L404.5 405.5 L405 406 L405.5 407.38 L406 409.33 L406.5 411.29 L407 413.25 L407.5 415.21 L408 415.8 L408.5 416.06 L409 416.31 L409.5 416.56 L410 416.81 L410.5 417.07 L411 417.32 L411.5 417.57 L412 417.83 L412.5 418.08 L413 418.33 L413.5 418.58 L414 418.84 L414.5 419.09 L415 419.34 L415.5 419.6 L416 419.85 L416.5 420.02 L417 420.08 L417.5 420.13 L418 420.19 L418.5 420.24 L419 420.3 L419.5 420.36 L420 420.41 L420.5 420.47 L421 420.52 L421.5 420.58 L422 420.87 L422.5 421.33 L423 421.78 L423.5 422.23 L424 422.69 L424.5 423.14 L425 423.6 L425.5 424.05 L426 424.5 L426.5 424.96 L427 425.41 L427.5 425.86 L428 426.32 L428.5 426.65 L429 426.89 L429.5 427.14 L430 427.39 L430.5 427.63 L431 427.88 L431.5 428.12 L432 428.37 L432.5 428.62 L433 428.86 L433.5 429.11 L434 429.36 L434.5 429.6 L435 429.74 L435.5 429.82 L436 429.89 L436.5 429.96 L437 430.03 L437.5 430.11 L438 430.18 L438.5 430.25 L439 430.32 L439.5 430.39 L440 430.47 L440.5 430.54 L441 430.61 L441.5 430.68 L442 430.76 L442.5 430.83 L443 430.9 L443.5 430.97 L444 431.05 L444.5 431.12 L445 431.19 L445.5 431.26 L446 431.34 L446.5 431.41 L447 431.48 L447.5 431.55 L448 431.62 L448.5 431.7 L449 431.77 L449.5 431.84 L450 431.9 L450.5 431.9 L451 431.9 L451.5 431.9 L452 431.9 L452.5 431.9 L453 431.9 L453.5 431.9 L454 431.9 L454.5 431.9 L455 431.9 L455.5 431.9 L456 431.9 L456.5 431.9 L457 431.9 L457.5 431.9 L458 431.9 L458.5 431.9 L459 431.9 L459.5 431.9 L460 431.9 L460.5 431.9 L461 431.9 L461.5 431.9 L462 431.9 L462.5 431.9 L463 431.72 L463.5 430.81 L464 429.9 L464.5 429 L465 428.09 L465.5 427.18 L466 426.27 L466.5 425.37 L467 424.46 L467.5 423.55 L468 422.64 L468.5 422.1 L469 422.1 L469.5 422.1 L470 422.1 L470.5 422.1 L471 422.1 L471.5 422.1 L472 422.1 L472.5 422.1 L473 422.1 L473.5 422.1 L474 422.1 L474.5 422.1 L475 422.1 L475.5 422.1 L476 422.1 L476.5 422.1 L477 422.1 L477.5 422.48 L478 422.87 L478.5 423.25 L479 423.64 L479.5 424.02 L480 424.41 L480.5 424.79 L481 425.18 L481.5 425.56 L482 425.95 L482.5 426.33 L483 426.72 L483.5 427.1 L484 427.13 L484.5 427.15 L485 427.18 L485.5 427.2 L486 427.23 L486.5 427.25 L487 427.28 L487.5 427.31 L488 427.33 L488.5 427.36 L489 427.38 L489.5 427.41 L490 427.44 L490.5 427.46 L491 427.49 L491.5 427.51 L492 427.54 L492.5 427.56 L493 427.59 L493.5 427.82 L494 428.2 L494.5 428.57 L495 428.94 L495.5 429.32 L496 429.69 L496.5 430.07 L497 430.44 L497.5 430.81 L498 431.19 L498.5 431.56 L499 431.93 L499.5 432.31 L500 432.68 L500.5 433.05 L501 433.43 L501.5 433.8 L502 434.22 L502.5 434.79 L503 435.37 L503.5 435.95 L504 436.52 L504.5 437.1 L505 437.68 L505.5 438.25 L506 438.83 L506.5 439.41 L507 439.98 L507.5 440.56 L508 441.14 L508.5 441.63 L509 441.75 L509.5 441.88 L510 442.01 L510.5 442.14 L511 442.27 L511.5 442.39 L512 442.52 L512.5 442.65 L513 442.7 L513.5 442.7 L514 442.7 L514.5 442.7 L515 442.7 L515.5 442.7 L516 442.7 L516.5 442.7 L517 442.7 L517.5 442.7 L518 442.7 L518.5 442.7 L519 442.7 L519.5 442.7 L520 442.7 L520.5 442.7 L521 442.7 L521.5 442.7 L522 442.7 L522.5 442.7 L523 442.7 L523.5 442.7 L524 442.7 L524.5 442.7 L525 442.7 L525.5 442.7 L526 443.29 L526.5 444.28 L527 445.27 L527.5 446.26 L528 447.25 L528.5 448.24 L529 449.22 L529.5 450.21 L530 451.2 L530.5 452.04 L531 452.85 L531.5 453.66 L532 454.46 L532.5 455.27 L533 456.07 L533.5 456.88 L534 457.68 L534.5 458.49 L535 459.29 L535.5 460.1 L536 460.15 L536.5 460.2 L537 460.25 L537.5 460.3 L538 460.36 L538.5 460.41 L539 460.46 L539.5 460.51 L540 460.56 L540.5 460.63 L541 460.78 L541.5 460.93 L542 461.07 L542.5 461.22 L543 461.37 L543.5 461.52 L544 461.67 L544.5 461.81 L545 461.96 L545.5 462.11 L546 462.26 L546.5 462.41 L547 462.55 L547.5 462.7 L548 462.85 L548.5 463 L549 463.14 L549.5 463.29 L550 463.44 L550.5 463.6 L551 463.76 L551.5 463.92 L552 464.08 L552.5 464.24 L553 464.4 L553.5 464.57 L554 464.73 L554.5 464.89 L555 465.05 L555.5 465.21 L556 465.37 L556.5 465.54 L557 465.68 L557.5 465.8 L558 465.93 L558.5 466.06 L559 466.19 L559.5 466.32 L560 466.44 L560.5 466.57 L561 466.7 L561.5 466.83 L562 466.96 L562.5 467.08 L563 467.21 L563.5 467.34 L564 467.47 L564.5 467.6 L565 467.72 L565.5 467.93 L566 468.26 L566.5 468.58 L567 468.91 L567.5 469.23 L568 469.56 L568.5 469.88 L569 470.21 L569.5 470.54 L570 470.86 L570.5 471.19 L571 471.51 L571.5 471.84 L572 472.25 L572.5 473.01 L573 473.76 L573.5 474.52 L574 475.27 L574.5 476.03 L575 476.79 L575.5 477.54 L576 478.3 L576.5 478.83 L577 479.21 L577.5 479.6 L578 479.98 L578.5 480.37 L579 480.75 L579.5 481.13 L580 481.52 L580.5 481.9 L581 481.98 L581.5 482.07 L582 482.15 L582.5 482.24 L583 482.32 L583.5 482.41 L584 482.49 L584.5 482.58 L585 482.66 L585.5 482.75 L586 482.83 L586.5 482.92 L587 483 L587.5 483.08 L588 483.17 L588.5 483.25 L589 483.34 L589.5 483.42 L590 483.51 L590.5 483.59 L591 483.68 L591.5 483.76 L592 483.85 L592.5 483.93 L593 484.02 L593.5 484.1 L594 484.52 L594.5 484.93 L595 485.35 L595.5 485.76 L596 486.18 L596.5 486.59 L597 487.01 L597.5 487.42 L598 487.84 L598.5 488.25 L599 488.67 L599.5 489.08 L600 489.5 L600.5 489.62 L601 489.74 L601.5 489.86 L602 489.98 L602.5 490.1 L603 490.22 L603.5 490.34 L604 490.47 L604.5 490.59 L605 490.71 L605.5 490.83 L606 490.95 L606.5 491.07 L607 491.19 L607.5 491.31 L608 491.43 L608.5 491.55 L609 491.98 L609.5 492.62 L610 493.26 L610.5 493.9 L611 494.54 L611.5 495.18 L612 495.82 L612.5 496.46 L613 497.1 L613.5 497.16 L614 497.21 L614.5 497.27 L615 497.33 L615.5 497.39 L616 497.44 L616.5 497.5 L617 497.56 L617.5 497.62 L618 497.67 L618.5 497.73 L619 497.79 L619.5 497.85 L620 497.9 L620.5 497.96 L621 498.02 L621.5 498.08 L622 498.71 L622.5 499.72 L623 500.73 L623.5 501.74 L624 502.75 L624.5 503.77 L625 504.78 L625.5 505.79 L626 506.8 L626.5 507.54 L627 508.28 L627.5 509.03 L628 509.77 L628.5 510.51 L629 511.25 L629.5 512 L630 512.74 L630.5 513.48 L631 514.22 L631.5 514.97 L632 515.71 L632.5 516.45 L633 516.8 L633.5 517.04 L634 517.29 L634.5 517.54 L635 517.78 L635.5 518.03 L636 518.27 L636.5 518.52 L637 518.77 L637.5 519.01 L638 519.26 L638.5 519.5 L639 519.75 L639.5 519.9 L640 520.03 L640.5 520.16 L641 520.29 L641.5 520.41 L642 520.54 L642.5 520.67 L643 520.8 L643.5 520.93 L644 521.05 L644.5 521.18 L645 521.31 L645.5 521.44 L646 521.57 L646.5 521.69 L647 521.82 L647.5 521.95 L648 522 L648.5 522 L649 522 L649.5 522 L650 522 L650.5 522 L651 522 L651.5 522 L652 522 L652.5 522 L653 522 L653.5 520.73 L654 519.15 L654.5 517.57 L655 515.99 L655.5 514.41 L656 512.83 L656.5 511.24 L657 509.66 L657.5 508.08 L658 506.5 L658.5 504.92 L659 504.4 L659.5 504.15 L660 503.9 L660.5 503.65 L661 503.4 L661.5 503.15 L662 502.9 L662.5 502.65 L663 502.4 L663.5 502.15 L664 501.9 L664.5 501.65 L665 501.4 L665.5 501.12 L666 500.84 L666.5 500.56 L667 500.28 L667.5 500 L668 499.72 L668.5 499.45 L669 499.17 L669.5 498.89 L670 498.61 L670.5 498.33 L671 498.05 L671.5 497.77 L672 497.49 L672.5 497.21 L673 496.94 L673.5 496.68 L674 496.42 L674.5 496.16 L675 495.9 L675.5 495.83 L676 495.77 L676.5 495.7 L677 495.63 L677.5 495.56 L678 495.5 L678.5 495.43 L679 495.36 L679.5 495.29 L680 495.23 L680.5 495.16 L681 495.09 L681.5 495.02 L682 494.96 L682.5 494.89 L683 494.82 L683.5 494.75 L684 494.69 L684.5 494.62 L685 494.55 L685.5 494.48 L686 494.42 L686.5 494.35 L687 494.28 L687.5 494.21 L688 494.15 L688.5 494.08 L689 494.01 L689.5 493.94 L690 493.88 L690.5 493.81 L691 493.74 L691.5 493.5 L692 493 L692.5 492.5 L693 492 L693.5 491.5 L694 491 L694.5 490.5 L695 490 L695.5 489.5 L696 489 L696.5 488.5 L697 488 L697.5 487.5 L698 487 L698.5 486.5 L699 486 L699.5 485.5 L700 485 L700.5 484.5 L701 484 L701.5 484 L702 484 L702.5 484 L703 484 L703.5 484 L704 484 L704.5 484 L705 484 L705.5 484 L706 484 L706.5 484 L707 484 L707.5 484 L708 484 L708.5 484 L709 484 L709.5 484 L710 484 L710.5 484 L711 484 L711.5 484 L712 484 L712.5 484 L713 484 L713.5 484 L714 484 L714.5 484 L715 484 L715.5 484 L716 484 L716.5 484 L717 484 L717.5 484 L718 484 L718.5 484.07 L719 484.4 L719.5 484.74 L720 485.07 L720.5 485.41 L721 485.74 L721.5 486.08 L722 486.41 L722.5 486.75 L723 487.08 L723.5 487.42 L724 487.75 L724.5 488.09 L725 488.42 L725.5 488.76 L726 489.09 L726.5 489.43 L727 489.76 L727.5 490.1 L728 490.43 L728.5 490.53 L729 490.58 L729.5 490.62 L730 490.66 L730.5 490.7 L731 490.74 L731.5 490.79 L732 490.83 L732.5 490.87 L733 490.91 L733.5 490.95 L734 491 L734.5 491.04 L735 491.08 L735.5 491.12 L736 491.16 L736.5 491.21 L737 491.25 L737.5 491.29 L738 491.33 L738.5 491.37 L739 491.42 L739.5 491.46 L740 491.5 L740.5 491.34 L741 491.18 L741.5 491.02 L742 490.85 L742.5 490.69 L743 490.53 L743.5 490.37 L744 490.21 L744.5 490.05 L745 489.88 L745.5 489.72 L746 489.56 L746.5 489.4 L747 488.79 L747.5 488.17 L748 487.56 L748.5 486.95 L749 486.33 L749.5 485.72 L750 485.1 L750.5 484.49 L751 483.57 L751.5 481.42 L752 479.27 L752.5 477.12 L753 474.97 L753.5 472.81 L754 470.66 L754.5 468.51 L755 466.36 L755.5 465.4 L756 465.24 L756.5 465.08 L757 464.92 L757.5 464.76 L758 464.6 L758.5 464.43 L759 464.27 L759.5 464.11 L760 463.95 L760.5 463.79 L761 463.63 L761.5 463.46 L762 463.3 L762.5 463.13 L763 462.96 L763.5 462.79 L764 462.62 L764.5 462.45 L765 462.28 L765.5 462.11 L766 461.94 L766.5 461.78 L767 461.61 L767.5 461.44 L768 461.27 L768.5 460.51 L769 459.36 L769.5 458.21 L770 457.05 L770.5 455.9 L771 454.75 L771.5 453.6 L772 453.5 L772.5 453.4 L773 453.3 L773.5 453.21 L774 453.11 L774.5 453.01 L775 452.91 L775.5 452.81 L776 452.71 L776.5 452.61 L777 452.51 L777.5 452.42 L778 452.32 L778.5 452.22 L779 452.12 L779.5 452.1 L780 452.1 L780.5 452.1 L781 452.1 L781.5 452.1 L782 452.1 L782.5 452.1 L783 452.1 L783.5 452.1 L784 452.1 L784.5 452.1 L785 452.1 L785.5 452.1 L786 452.1 L786.5 452.1 L787 452.1 L787.5 452.1 L788 452.32 L788.5 452.69 L789 453.06 L789.5 453.43 L790 453.8 L790.5 454.17 L791 454.54 L791.5 454.91 L792 455.28 L792.5 455.64 L793 456.01 L793.5 456.38 L794 456.75 L794.5 457.12 L795 457.5 L795.5 457.87 L796 458.24 L796.5 458.62 L797 458.99 L797.5 459.37 L798 459.74 L798.5 460.11 L799 460.49 L799.5 460.86 L800 461.23 L800.5 461.61 L801 461.98 L801.5 462.35 L802 462.73 L802.5 463.1 L803 463.4 L803.5 463.4 L804 463.4 L804.5 463.4 L805 463.4 L805.5 463.4 L806 463.4 L806.5 463.4 L807 463.4 L807.5 463.4 L808 463.4 L808.5 463.4 L809 463.4 L809.5 463.4 L810 463.4 L810.5 463.4 L811 463.4 L811.5 463.4 L812 463.4 L812.5 463.4 L813 463.4 L813.5 463.4 L814 460.88 L814.5 456.69 L815 452.5 L815.5 448.3 L816 444.11 L816.5 439.92 L817 435.73 L817.5 431.53 L818 427.34 L818.5 426.25 L819 425.94 L819.5 425.63 L820 425.32 L820.5 425.01 L821 424.7 L821.5 424.39 L822 424.08 L822.5 423.77 L823 423.46 L823.5 423.15 L824 422.84 L824.5 422.53 L825 422.22 L825.5 421.91 L826 421.6 L826.5 421.6 L827 421.6 L827.5 421.6 L828 421.6 L828.5 421.6 L829 421.6 L829.5 421.6 L830 421.6 L830.5 421.6 L831 421.6 L831.5 421.6 L832 421.6 L832.5 421.6 L833 421.6 L833.5 421.6 L834 421.6 L834.5 421.6 L835 421.6 L835.5 421.6 L836 421.6 L836.5 421.6 L837 421.52 L837.5 421.33 L838 421.14 L838.5 420.95 L839 420.75 L839.5 420.56 L840 420.37 L840.5 420.18 L841 419.98 L841.5 419.79 L842 419.6 L842.5 419.41 L843 419.22 L843.5 419.02 L844 418.83 L844.5 418.64 L845 418.45 L845.5 418.25 L846 418.06 L846.5 417.87 L847 417.68 L847.5 417.48 L848 417.29 L848.5 417.1 L849 416.91 L849.5 416.72 L850 415.91 L850.5 414.18 L851 412.45 L851.5 410.73 L852 409 L852.5 407.27 L853 405.55 L853.5 403.82 L854 402.09 L854.5 401.4 L855 401.4 L855.5 401.4 L856 401.4 L856.5 401.4 L857 401.4 L857.5 401.4 L858 401.4 L858.5 401.4 L859 401.4 L859.5 401.4 L860 401.4 L860.5 401.4 L861 401.6 L861.5 401.93 L862 402.27 L862.5 402.6 L863 402.93 L863.5 403.27 L864 403.6 L864.5 403.93 L865 404.27 L865.5 404.6 L866 404.93 L866.5 405.27 L867 405.6 L867.5 405.93 L868 406.27 L868.5 406.6 L869 406.93 L869.5 407.27 L870 407.6 L870.5 407.93 L871 408.27 L871.5 408.6 L872 408.63 L872.5 408.66 L873 408.69 L873.5 408.72 L874 408.75 L874.5 408.78 L875 408.82 L875.5 408.85 L876 408.88 L876.5 408.91 L877 408.94 L877.5 408.97 L878 409 L878.5 410.97 L879 412.94 L879.5 414.91 L880 416.88 L880.5 418.85 L881 420.82 L881.5 422.4 L882 423.41 L882.5 424.42 L883 425.43 L883.5 426.44 L884 427.45 L884.5 428.46 L885 429.47 L885.5 430.48 L886 431.49 L886.5 432.5 L887 432.93 L887.5 432.98 L888 433.03 L888.5 433.08 L889 433.13 L889.5 433.19 L890 433.24 L890.5 433.29 L891 433.34 L891.5 433.39 L892 433.44 L892.5 433.49 L893 433.54 L893.5 433.59 L894 433.64 L894.5 433.69 L895 433.75 L895.5 433.8 L896 433.85 L896.5 433.9 L897 433.95 L897.5 434 L898 434.2 L898.5 434.41 L899 434.61 L899.5 434.82 L900 435.02 L900.5 435.23 L901 435.43 L901.5 435.63 L902 435.84 L902.5 436.04 L903 436.25 L903.5 436.45 L904 436.65 L904.5 436.86 L905 437.06 L905.5 437.27 L906 437.47 L906.5 437.67 L907 437.88 L907.5 438.08 L908 438.29 L908.5 438.49 L909 438.7 L909.5 438.9 L910 438.79 L910.5 438.67 L911 438.56 L911.5 438.45 L912 438.33 L912.5 438.22 L913 438.11 L913.5 437.99 L914 437.88 L914.5 437.77 L915 437.65 L915.5 437.54 L916 437.43 L916.5 437.31 L917 437.2 L917.5 437.03 L918 436.86 L918.5 436.69 L919 436.52 L919.5 436.35 L920 436.18 L920.5 436.02 L921 435.85 L921.5 435.68 L922 435.51 L922.5 435.34 L923 435.17 L923.5 435 L924 434.42 L924.5 433.85 L925 433.27 L925.5 432.69 L926 432.12 L926.5 431.54 L927 430.97 L927.5 430.39 L928 429.81 L928.5 429.24 L929 428.66 L929.5 428.08 L930 427.51 L930.5 426.93 L931 426.35 L931.5 425.78 L932 425.2 L932.5 424.63 L933 424.05 L933.5 423.47 L934 422.9 L934.5 422.32 L935 421.74 L935.5 421.17 L936 420.59 L936.5 420.02 L937 419.92 L937.5 419.96 L938 419.99 L938.5 420.02 L939 420.05 L939.5 420.08 L940 420.11 L940.5 420.14 L941 420.17 L941.5 420.2 L942 420.23 L942.5 420.26 L943 420.29 L943.5 419.6 L944 418.73 L944.5 417.85 L945 416.98 L945.5 416.1 L946 415.23 L946.5 414.35 L947 413.48 L947.5 412.6 L948 411.73 L948.5 410.85 L949 409.97 L949.5 409.1 L950 408.22 L950.5 407.35 L951 406.47 L951.5 405.6 L952 404.72 L952.5 403.85 L953 402.97 L953.5 402.1 L954 401.37 L954.5 401.2 L955 401.03 L955.5 400.86 L956 400.7 L956.5 400.53 L957 400.36 L957.5 400.19 L958 400.03 L958.5 399.86 L959 399.69 L959.5 399.52 L960 399.35 L960.5 399.19 L961 399.02 L961.5 398.85 L962 398.68 L962.5 398.52 L963 398.35 L963.5 398.18 L964 398.01 L964.5 397.85 L965 397.68 L965.5 397.51 L966 397.34 L966.5 397.18 L967 397.01 L967.5 396.84 L968 396.67 L968.5 396.51 L969 396.34 L969.5 396.17 L970 396 L970.5 395.83 L971 395.67 L971.5 394.95 L972 393.87 L972.5 392.78 L973 391.7 L973.5 390.62 L974 389.53 L974.5 388.45 L975 387.37 L975.5 386.28 L976 385.2 L976 413.4 L975.5 414.98 L975 416.55 L974.5 418.13 L974 419.71 L973.5 421.28 L973 421.6 L972.5 421.6 L972 421.6 L971.5 421.6 L971 421.6 L970.5 421.6 L970 421.6 L969.5 421.6 L969 421.6 L968.5 421.6 L968 421.6 L967.5 421.6 L967 421.6 L966.5 421.6 L966 421.6 L965.5 421.6 L965 421.6 L964.5 421.6 L964 421.6 L963.5 421.6 L963 421.6 L962.5 421.6 L962 421.6 L961.5 421.6 L961 421.6 L960.5 421.6 L960 421.6 L959.5 421.6 L959 421.6 L958.5 421.6 L958 421.6 L957.5 421.6 L957 421.6 L956.5 421.6 L956 421.6 L955.5 421.6 L955 421.6 L954.5 421.6 L954 421.6 L953.5 421.6 L953 421.6 L952.5 421.6 L952 421.6 L951.5 421.6 L951 421.6 L950.5 421.6 L950 421.6 L949.5 421.6 L949 421.6 L948.5 421.6 L948 421.6 L947.5 421.6 L947 421.6 L946.5 421.6 L946 421.6 L945.5 421.6 L945 421.6 L944.5 421.6 L944 421.6 L943.5 421.6 L943 421.6 L942.5 421.6 L942 421.6 L941.5 421.6 L941 421.6 L940.5 421.6 L940 421.6 L939.5 421.6 L939 421.6 L938.5 421.6 L938 421.6 L937.5 421.6 L937 421.6 L936.5 421.6 L936 421.6 L935.5 421.6 L935 421.74 L934.5 422.32 L934 422.9 L933.5 423.47 L933 424.05 L932.5 424.63 L932 425.2 L931.5 425.78 L931 426.35 L930.5 426.93 L930 427.51 L929.5 428.08 L929 428.66 L928.5 429.24 L928 429.81 L927.5 430.39 L927 430.97 L926.5 431.54 L926 432.12 L925.5 432.69 L925 433.27 L924.5 433.85 L924 434.42 L923.5 435 L923 435.17 L922.5 435.34 L922 435.51 L921.5 435.68 L921 435.85 L920.5 436.02 L920 436.18 L919.5 436.35 L919 436.52 L918.5 436.69 L918 436.86 L917.5 437.03 L917 437.2 L916.5 437.31 L916 437.43 L915.5 437.54 L915 437.65 L914.5 437.77 L914 437.88 L913.5 437.99 L913 438.11 L912.5 438.22 L912 438.33 L911.5 438.45 L911 438.56 L910.5 438.67 L910 438.79 L909.5 438.9 L909 438.7 L908.5 438.49 L908 438.29 L907.5 438.08 L907 437.88 L906.5 437.67 L906 437.47 L905.5 437.27 L905 437.06 L904.5 436.86 L904 436.65 L903.5 436.45 L903 436.25 L902.5 436.04 L902 435.84 L901.5 435.63 L901 435.43 L900.5 435.23 L900 435.02 L899.5 434.82 L899 434.61 L898.5 434.41 L898 434.2 L897.5 434 L897 433.95 L896.5 433.9 L896 433.85 L895.5 433.8 L895 433.75 L894.5 433.69 L894 433.64 L893.5 433.59 L893 433.54 L892.5 433.49 L892 433.44 L891.5 433.39 L891 433.34 L890.5 433.29 L890 433.24 L889.5 433.19 L889 433.13 L888.5 433.08 L888 433.03 L887.5 432.98 L887 432.93 L886.5 433 L886 433.24 L885.5 433.49 L885 433.74 L884.5 433.98 L884 434.23 L883.5 434.48 L883 434.72 L882.5 434.97 L882 435.21 L881.5 435.46 L881 435.71 L880.5 435.95 L880 436.12 L879.5 436.16 L879 436.21 L878.5 436.26 L878 436.3 L877.5 436.35 L877 436.4 L876.5 436.44 L876 436.49 L875.5 436.53 L875 436.58 L874.5 436.63 L874 436.67 L873.5 436.72 L873 436.77 L872.5 436.81 L872 436.86 L871.5 436.9 L871 436.95 L870.5 437 L870 437.04 L869.5 437.09 L869 437.14 L868.5 437.18 L868 437.56 L867.5 438.17 L867 438.78 L866.5 439.39 L866 439.99 L865.5 440.6 L865 441.21 L864.5 441.81 L864 442.42 L863.5 443.03 L863 443.64 L862.5 444.24 L862 444.85 L861.5 445.46 L861 446.06 L860.5 446.67 L860 447.28 L859.5 447.89 L859 448.49 L858.5 449.1 L858 449.1 L857.5 449.1 L857 449.1 L856.5 449.1 L856 449.1 L855.5 449.1 L855 449.1 L854.5 449.1 L854 449.1 L853.5 449.1 L853 449.1 L852.5 449.1 L852 449.1 L851.5 449.1 L851 449.1 L850.5 449.1 L850 449.1 L849.5 449.1 L849 449.1 L848.5 449.1 L848 449.1 L847.5 449.1 L847 449.1 L846.5 449.1 L846 449.1 L845.5 449.1 L845 449.1 L844.5 449.1 L844 449.1 L843.5 449.1 L843 449.1 L842.5 449.1 L842 449.1 L841.5 449.1 L841 449.1 L840.5 449.1 L840 449.1 L839.5 449.1 L839 449.1 L838.5 449.1 L838 449.1 L837.5 449.1 L837 449.1 L836.5 449.1 L836 449.1 L835.5 449.1 L835 449.1 L834.5 449.1 L834 449.1 L833.5 449.1 L833 449.1 L832.5 449.1 L832 449.1 L831.5 449.1 L831 449.1 L830.5 449.1 L830 449.1 L829.5 449.1 L829 449.1 L828.5 449.1 L828 449.1 L827.5 449.1 L827 449.1 L826.5 449.1 L826 449.1 L825.5 448.92 L825 448.74 L824.5 448.56 L824 448.38 L823.5 448.2 L823 448.6 L822.5 449 L822 449.39 L821.5 449.79 L821 450.19 L820.5 450.59 L820 450.99 L819.5 451.39 L819 451.78 L818.5 452.18 L818 453.24 L817.5 456.93 L817 460.63 L816.5 464.32 L816 468.01 L815.5 471.7 L815 475.4 L814.5 479.09 L814 482.78 L813.5 485 L813 485 L812.5 485 L812 485 L811.5 485 L811 485 L810.5 485 L810 485 L809.5 485 L809 485 L808.5 485 L808 485 L807.5 485 L807 485 L806.5 485 L806 485 L805.5 485 L805 485 L804.5 485 L804 485 L803.5 485 L803 485 L802.5 485 L802 485 L801.5 485 L801 485 L800.5 485 L800 485 L799.5 485 L799 485 L798.5 485 L798 485 L797.5 485 L797 485 L796.5 485 L796 485 L795.5 485 L795 485 L794.5 485 L794 485 L793.5 485 L793 485 L792.5 485 L792 485 L791.5 485 L791 485 L790.5 485 L790 485 L789.5 485 L789 485 L788.5 485 L788 485 L787.5 485 L787 485 L786.5 485 L786 485 L785.5 485 L785 485 L784.5 485 L784 485 L783.5 485 L783 485 L782.5 485 L782 485 L781.5 485 L781 485 L780.5 485 L780 485 L779.5 485 L779 485 L778.5 485 L778 485 L777.5 485 L777 485 L776.5 485 L776 485 L775.5 485 L775 485 L774.5 485 L774 485 L773.5 485 L773 485 L772.5 485 L772 485 L771.5 485 L771 485 L770.5 485 L770 485 L769.5 485 L769 485 L768.5 485 L768 485 L767.5 485 L767 485 L766.5 485 L766 485 L765.5 485 L765 485 L764.5 485 L764 485 L763.5 485 L763 485 L762.5 485 L762 485 L761.5 485 L761 485 L760.5 485 L760 485 L759.5 485 L759 485 L758.5 485 L758 485 L757.5 485 L757 485 L756.5 485 L756 485 L755.5 485 L755 485.6 L754.5 487.11 L754 488.62 L753.5 490.13 L753 491.64 L752.5 493.15 L752 494.66 L751.5 496.17 L751 497.68 L750.5 499.19 L750 500.7 L749.5 501.3 L749 501.3 L748.5 501.3 L748 501.3 L747.5 501.3 L747 501.3 L746.5 501.3 L746 501.3 L745.5 501.3 L745 501.3 L744.5 501.3 L744 501.3 L743.5 501.3 L743 501.3 L742.5 501.3 L742 501.3 L741.5 501.3 L741 501.3 L740.5 501.3 L740 501.3 L739.5 501.3 L739 501.3 L738.5 501.3 L738 501.3 L737.5 501.3 L737 501.3 L736.5 501.3 L736 501.3 L735.5 501.3 L735 501.3 L734.5 501.3 L734 501.3 L733.5 501.3 L733 501.3 L732.5 501.3 L732 501.3 L731.5 501.3 L731 500.41 L730.5 499.3 L730 498.18 L729.5 497.07 L729 495.95 L728.5 494.84 L728 493.73 L727.5 492.61 L727 491.5 L726.5 491.5 L726 491.5 L725.5 491.5 L725 491.5 L724.5 491.5 L724 491.5 L723.5 491.5 L723 491.5 L722.5 491.5 L722 491.5 L721.5 491.5 L721 491.5 L720.5 491.5 L720 491.5 L719.5 491.5 L719 491.5 L718.5 491.5 L718 491.5 L717.5 491.5 L717 491.5 L716.5 491.5 L716 491.5 L715.5 491.5 L715 491.5 L714.5 491.5 L714 491.5 L713.5 491.5 L713 491.5 L712.5 491.5 L712 491.5 L711.5 491.5 L711 491.5 L710.5 491.5 L710 491.5 L709.5 491.42 L709 491.23 L708.5 491.03 L708 490.84 L707.5 490.64 L707 490.45 L706.5 490.26 L706 490.06 L705.5 489.87 L705 489.67 L704.5 489.48 L704 488.58 L703.5 487.22 L703 485.85 L702.5 484.49 L702 484 L701.5 484 L701 484 L700.5 484.5 L700 485 L699.5 485.5 L699 486 L698.5 486.5 L698 487 L697.5 487.5 L697 488 L696.5 488.5 L696 489 L695.5 489.5 L695 490 L694.5 490.5 L694 491 L693.5 491.5 L693 492 L692.5 492.5 L692 493 L691.5 493.5 L691 493.74 L690.5 493.81 L690 493.88 L689.5 493.94 L689 494.01 L688.5 494.08 L688 494.15 L687.5 494.21 L687 494.28 L686.5 494.35 L686 494.42 L685.5 494.48 L685 494.55 L684.5 494.62 L684 494.69 L683.5 494.75 L683 494.82 L682.5 494.89 L682 494.96 L681.5 495.02 L681 495.09 L680.5 495.16 L680 495.23 L679.5 495.29 L679 495.36 L678.5 495.43 L678 495.5 L677.5 495.56 L677 495.63 L676.5 495.7 L676 495.77 L675.5 495.83 L675 495.9 L674.5 496.16 L674 496.42 L673.5 496.68 L673 496.94 L672.5 497.21 L672 497.49 L671.5 497.77 L671 498.05 L670.5 498.33 L670 498.61 L669.5 498.89 L669 499.17 L668.5 499.45 L668 499.72 L667.5 500 L667 500.28 L666.5 500.56 L666 500.84 L665.5 501.12 L665 501.4 L664.5 501.65 L664 501.9 L663.5 502.15 L663 502.4 L662.5 502.65 L662 502.9 L661.5 503.15 L661 503.4 L660.5 503.65 L660 503.9 L659.5 504.15 L659 504.4 L658.5 504.92 L658 506.5 L657.5 508.08 L657 509.66 L656.5 511.24 L656 512.83 L655.5 514.41 L655 515.99 L654.5 517.57 L654 519.15 L653.5 520.73 L653 522 L652.5 522 L652 522 L651.5 522 L651 522 L650.5 522 L650 522 L649.5 522 L649 522 L648.5 522 L648 522 L647.5 521.95 L647 521.82 L646.5 521.69 L646 521.57 L645.5 521.44 L645 521.31 L644.5 521.18 L644 521.05 L643.5 520.93 L643 520.8 L642.5 520.67 L642 520.54 L641.5 520.41 L641 520.29 L640.5 520.16 L640 520.03 L639.5 519.9 L639 519.75 L638.5 519.5 L638 519.26 L637.5 519.01 L637 518.77 L636.5 518.52 L636 518.27 L635.5 518.03 L635 517.78 L634.5 517.54 L634 517.29 L633.5 517.04 L633 516.8 L632.5 516.45 L632 515.71 L631.5 514.97 L631 514.22 L630.5 513.48 L630 512.74 L629.5 512 L629 511.25 L628.5 510.51 L628 509.77 L627.5 509.03 L627 508.28 L626.5 507.54 L626 506.8 L625.5 505.79 L625 504.78 L624.5 503.77 L624 502.75 L623.5 501.74 L623 500.73 L622.5 499.72 L622 498.71 L621.5 498.08 L621 498.02 L620.5 497.96 L620 497.9 L619.5 497.85 L619 497.79 L618.5 497.73 L618 497.67 L617.5 497.62 L617 497.56 L616.5 497.5 L616 497.44 L615.5 497.39 L615 497.33 L614.5 497.27 L614 497.21 L613.5 497.16 L613 497.1 L612.5 496.46 L612 495.82 L611.5 495.18 L611 494.54 L610.5 493.9 L610 493.26 L609.5 492.62 L609 491.98 L608.5 491.55 L608 491.43 L607.5 491.31 L607 491.19 L606.5 491.07 L606 490.95 L605.5 490.83 L605 490.71 L604.5 490.59 L604 490.47 L603.5 490.34 L603 490.22 L602.5 490.1 L602 489.98 L601.5 489.86 L601 489.74 L600.5 489.62 L600 489.5 L599.5 489.08 L599 488.67 L598.5 488.25 L598 487.84 L597.5 487.42 L597 487.01 L596.5 486.59 L596 486.18 L595.5 485.76 L595 485.35 L594.5 484.93 L594 484.52 L593.5 484.1 L593 484.02 L592.5 483.93 L592 483.85 L591.5 483.76 L591 483.68 L590.5 483.59 L590 483.51 L589.5 483.42 L589 483.34 L588.5 483.25 L588 483.17 L587.5 483.08 L587 483 L586.5 482.92 L586 482.83 L585.5 482.75 L585 482.66 L584.5 482.58 L584 482.49 L583.5 482.41 L583 482.32 L582.5 482.24 L582 482.15 L581.5 482.07 L581 481.98 L580.5 481.9 L580 481.52 L579.5 481.13 L579 480.75 L578.5 480.37 L578 479.98 L577.5 479.6 L577 479.21 L576.5 478.83 L576 478.3 L575.5 477.54 L575 476.79 L574.5 476.03 L574 475.27 L573.5 474.52 L573 473.76 L572.5 473.01 L572 472.25 L571.5 471.84 L571 471.51 L570.5 471.19 L570 470.86 L569.5 470.54 L569 470.21 L568.5 469.88 L568 469.56 L567.5 469.23 L567 468.91 L566.5 468.58 L566 468.26 L565.5 467.93 L565 467.72 L564.5 467.6 L564 467.47 L563.5 467.34 L563 467.21 L562.5 467.08 L562 466.96 L561.5 466.83 L561 466.7 L560.5 466.57 L560 466.44 L559.5 466.32 L559 466.19 L558.5 466.06 L558 465.93 L557.5 465.8 L557 465.68 L556.5 465.54 L556 465.37 L555.5 465.21 L555 465.05 L554.5 464.89 L554 464.73 L553.5 464.57 L553 464.4 L552.5 464.24 L552 464.08 L551.5 463.92 L551 463.76 L550.5 463.6 L550 463.44 L549.5 463.29 L549 463.14 L548.5 463 L548 462.85 L547.5 462.7 L547 462.55 L546.5 462.41 L546 462.26 L545.5 462.11 L545 461.96 L544.5 461.81 L544 461.67 L543.5 461.52 L543 461.37 L542.5 461.22 L542 461.07 L541.5 460.93 L541 460.78 L540.5 460.63 L540 460.56 L539.5 460.51 L539 460.46 L538.5 460.41 L538 460.36 L537.5 460.3 L537 460.25 L536.5 460.2 L536 460.15 L535.5 460.1 L535 459.29 L534.5 458.49 L534 457.68 L533.5 456.88 L533 456.07 L532.5 455.27 L532 454.46 L531.5 453.66 L531 452.85 L530.5 452.04 L530 451.2 L529.5 450.21 L529 449.22 L528.5 448.24 L528 447.25 L527.5 446.26 L527 445.27 L526.5 444.28 L526 443.29 L525.5 442.7 L525 442.7 L524.5 442.7 L524 442.7 L523.5 442.7 L523 442.7 L522.5 442.7 L522 442.7 L521.5 442.7 L521 442.7 L520.5 442.7 L520 442.7 L519.5 442.7 L519 442.7 L518.5 442.7 L518 442.7 L517.5 442.7 L517 442.7 L516.5 442.7 L516 442.7 L515.5 442.7 L515 442.7 L514.5 442.7 L514 442.7 L513.5 442.7 L513 442.7 L512.5 442.65 L512 442.52 L511.5 442.39 L511 442.27 L510.5 442.14 L510 442.01 L509.5 441.88 L509 441.75 L508.5 441.63 L508 441.14 L507.5 440.56 L507 439.98 L506.5 439.41 L506 438.83 L505.5 438.25 L505 437.68 L504.5 437.1 L504 436.52 L503.5 435.95 L503 435.37 L502.5 434.79 L502 434.22 L501.5 433.8 L501 433.43 L500.5 433.05 L500 432.68 L499.5 432.31 L499 431.93 L498.5 431.56 L498 431.19 L497.5 430.81 L497 430.44 L496.5 430.07 L496 429.69 L495.5 429.32 L495 428.94 L494.5 428.57 L494 428.2 L493.5 427.82 L493 427.6 L492.5 427.6 L492 427.6 L491.5 427.6 L491 427.6 L490.5 427.6 L490 427.6 L489.5 427.6 L489 427.6 L488.5 427.6 L488 427.6 L487.5 427.6 L487 427.6 L486.5 427.6 L486 427.6 L485.5 427.6 L485 427.6 L484.5 427.6 L484 427.6 L483.5 427.6 L483 426.96 L482.5 426.33 L482 425.95 L481.5 425.56 L481 425.18 L480.5 424.79 L480 424.41 L479.5 424.02 L479 423.64 L478.5 423.25 L478 422.87 L477.5 422.48 L477 422.1 L476.5 422.1 L476 422.1 L475.5 422.1 L475 422.1 L474.5 422.1 L474 422.1 L473.5 422.1 L473 422.1 L472.5 422.1 L472 422.1 L471.5 422.1 L471 422.1 L470.5 422.1 L470 422.1 L469.5 422.1 L469 422.1 L468.5 422.1 L468 422.64 L467.5 423.55 L467 424.46 L466.5 425.37 L466 426.27 L465.5 427.18 L465 428.09 L464.5 429 L464 429.9 L463.5 430.81 L463 431.72 L462.5 431.9 L462 431.9 L461.5 431.9 L461 431.9 L460.5 431.9 L460 431.9 L459.5 431.9 L459 431.9 L458.5 431.9 L458 431.9 L457.5 431.9 L457 431.9 L456.5 431.9 L456 431.9 L455.5 431.9 L455 431.9 L454.5 431.9 L454 431.9 L453.5 431.9 L453 431.9 L452.5 431.9 L452 431.9 L451.5 431.9 L451 431.9 L450.5 431.9 L450 431.9 L449.5 431.84 L449 431.77 L448.5 431.7 L448 431.62 L447.5 431.55 L447 431.48 L446.5 431.41 L446 431.34 L445.5 431.26 L445 431.19 L444.5 431.12 L444 431.05 L443.5 430.97 L443 430.9 L442.5 430.83 L442 430.76 L441.5 430.68 L441 430.61 L440.5 430.54 L440 430.47 L439.5 430.39 L439 430.32 L438.5 430.25 L438 430.18 L437.5 430.11 L437 430.03 L436.5 429.96 L436 429.89 L435.5 429.82 L435 429.74 L434.5 429.6 L434 429.36 L433.5 429.11 L433 428.86 L432.5 428.62 L432 428.37 L431.5 428.12 L431 427.88 L430.5 427.63 L430 427.39 L429.5 427.14 L429 426.89 L428.5 426.65 L428 426.32 L427.5 425.86 L427 425.41 L426.5 424.96 L426 424.5 L425.5 424.05 L425 423.6 L424.5 423.14 L424 422.69 L423.5 422.23 L423 421.78 L422.5 421.33 L422 420.87 L421.5 420.58 L421 420.52 L420.5 420.47 L420 420.41 L419.5 420.36 L419 420.3 L418.5 420.24 L418 420.19 L417.5 420.13 L417 420.08 L416.5 420.02 L416 419.85 L415.5 419.6 L415 419.34 L414.5 419.09 L414 418.84 L413.5 418.58 L413 418.33 L412.5 418.08 L412 417.83 L411.5 417.57 L411 417.32 L410.5 417.07 L410 416.81 L409.5 416.56 L409 416.31 L408.5 416.06 L408 415.8 L407.5 415.21 L407 413.25 L406.5 411.29 L406 409.33 L405.5 407.38 L405 406 L404.5 405.5 L404 405 L403.5 404.5 L403 404 L402.5 403.5 L402 403 L401.5 402.5 L401 402 L400.5 402.1 L400 402.34 L399.5 402.58 L399 402.83 L398.5 403.07 L398 403.32 L397.5 403.56 L397 403.8 L396.5 404.22 L396 405.33 L395.5 406.44 L395 407.56 L394.5 408.67 L394 409.78 L393.5 410.89 L393 412 L392.5 413.11 L392 414.22 L391.5 415.33 L391 416.06 L390.5 416.21 L390 416.36 L389.5 416.52 L389 416.67 L388.5 416.82 L388 416.97 L387.5 416.87 L387 416.71 L386.5 416.55 L386 416.39 L385.5 416.22 L385 416.06 L384.5 415.9 L384 415.74 L383.5 415.58 L383 415.42 L382.5 415.26 L382 415.09 L381.5 414.93 L381 414.78 L380.5 414.64 L380 414.49 L379.5 414.35 L379 414.21 L378.5 414.06 L378 413.92 L377.5 413.77 L377 413.63 L376.5 413.48 L376 413.34 L375.5 413.19 L375 413.05 L374.5 412.9 L374 412.76 L373.5 412.34 L373 411.74 L372.5 411.14 L372 410.53 L371.5 409.93 L371 409.33 L370.5 408.73 L370 408.13 L369.5 407.52 L369 406.92 L368.5 406.32 L368 406.16 L367.5 406.1 L367 406.04 L366.5 405.99 L366 405.93 L365.5 405.87 L365 405.82 L364.5 405.76 L364 405.71 L363.5 405.65 L363 405.59 L362.5 405.54 L362 405.48 L361.5 405.43 L361 405.37 L360.5 405.31 L360 405.26 L359.5 405.2 L359 405.14 L358.5 404.83 L358 403.49 L357.5 402.14 L357 400.8 L356.5 399.46 L356 398.11 L355.5 396.77 L355 396.44 L354.5 396.36 L354 396.28 L353.5 396.2 L353 396.12 L352.5 396.04 L352 395.96 L351.5 395.88 L351 395.8 L350.5 395.57 L350 395.34 L349.5 395.11 L349 394.88 L348.5 394.65 L348 394.42 L347.5 394.18 L347 393.95 L346.5 393.72 L346 393.49 L345.5 393.26 L345 393.03 L344.5 392.8 L344 393.02 L343.5 393.24 L343 393.46 L342.5 393.69 L342 393.91 L341.5 394.13 L341 394.35 L340.5 394.57 L340 394.79 L339.5 395.02 L339 395.24 L338.5 395.46 L338 395.68 L337.5 395.9 L337 396.12 L336.5 396.35 L336 396.57 L335.5 396.79 L335 397.01 L334.5 396.99 L334 396.81 L333.5 396.62 L333 396.44 L332.5 396.25 L332 396.07 L331.5 395.88 L331 395.7 L330.5 395.52 L330 395.33 L329.5 395.15 L329 394.96 L328.5 394.78 L328 394.59 L327.5 394.41 L327 394.17 L326.5 393.84 L326 393.52 L325.5 393.19 L325 392.87 L324.5 392.54 L324 392.22 L323.5 391.89 L323 391.57 L322.5 391.57 L322 391.66 L321.5 391.75 L321 391.85 L320.5 391.94 L320 392.03 L319.5 392.3 L319 393.31 L318.5 394.32 L318 395.33 L317.5 396.34 L317 397.35 L316.5 398.36 L316 399.37 L315.5 400.38 L315 401.39 L314.5 402.39 L314 403 L313.5 403 L313 403 L312.5 403 L312 403 L311.5 403 L311 403 L310.5 403 L310 403 L309.5 403.47 L309 404.05 L308.5 404.64 L308 405.22 L307.5 405.81 L307 406.39 L306.5 406.98 L306 407.56 L305.5 408.14 L305 408.73 L304.5 409.31 L304 409.9 L303.5 410.48 L303 410.6 L302.5 410.6 L302 410.6 L301.5 410.6 L301 410.6 L300.5 410.6 L300 410.6 L299.5 410.6 L299 410.6 L298.5 410.6 L298 410.6 L297.5 410.6 L297 410.6 L296.5 410.6 L296 410.6 L295.5 410.6 L295 410.6 L294.5 410.4 L294 409.89 L293.5 409.39 L293 408.89 L292.5 408.38 L292 407.88 L291.5 407.38 L291 406.87 L290.5 406.37 L290 405.86 L289.5 405.36 L289 404.86 L288.5 404.35 L288 403.85 L287.5 403.34 L287 402.84 L286.5 402.34 L286 401.83 L285.5 401.33 L285 400.83 L284.5 400.32 L284 399.82 L283.5 399.31 L283 398.81 L282.5 398.31 L282 397.8 L281.5 397.11 L281 396.13 L280.5 395.15 L280 394.18 L279.5 393.2 L279 392.22 L278.5 391.25 L278 390.27 L277.5 389.29 L277 384.89 L276.5 378.2 L276 371.52 L275.5 364.83 L275 358.14 L274.5 351.46 L274 344.77 L273.5 338.09 L273 331.4 L272.5 331.35 L272 331.31 L271.5 331.26 L271 331.21 L270.5 331.17 L270 331.12 L269.5 331.08 L269 331.03 L268.5 330.98 L268 330.94 L267.5 330.89 L267 330.84 L266.5 330.8 L266 330.75 L265.5 330.71 L265 330.66 L264.5 330.61 L264 330.57 L263.5 330.52 L263 330.47 L262.5 330.43 L262 329.31 L261.5 326.58 L261 323.85 L260.5 321.13 L260 318.4 L259.5 316.46 L259 314.51 L258.5 312.57 L258 310.62 L257.5 308.68 L257 307.36 L256.5 306.45 L256 305.54 L255.5 304.63 L255 303.73 L254.5 302.82 L254 301.91 L253.5 301 L253 300.1 L252.5 299.19 L252 298.28 L251.5 297.6 L251 296.98 L250.5 296.36 L250 295.73 L249.5 295.11 L249 294.49 L248.5 293.86 L248 293.24 L247.5 292.62 L247 291.99 L246.5 291.37 L246 290.75 L245.5 290.12 L245 289.5 L244.5 286.68 L244 283.86 L243.5 281.04 L243 278.22 L242.5 275.4 L242 272.58 L241.5 269.76 L241 266.94 L240.5 264.12 L240 261.3 L239.5 261.24 L239 261.17 L238.5 261.11 L238 261.05 L237.5 260.98 L237 260.92 L236.5 260.86 L236 260.79 L235.5 260.73 L235 260.67 L234.5 260.6 L234 260.54 L233.5 260.48 L233 260.41 L232.5 260.35 L232 260.29 L231.5 260.23 L231 259.47 L230.5 258.27 L230 257.06 L229.5 255.85 L229 254.64 L228.5 253.43 L228 252.22 L227.5 251.01 L227 249.8 L226.5 249.77 L226 249.75 L225.5 249.72 L225 249.7 L224.5 249.67 L224 249.64 L223.5 249.62 L223 249.59 L222.5 249.57 L222 249.54 L221.5 249.52 L221 249.49 L220.5 249.46 L220 249.44 L219.5 249.41 L219 249.39 L218.5 249.36 L218 249.33 L217.5 249.31 L217 249.28 L216.5 249.26 L216 249.23 L215.5 249.21 L215 249.18 L214.5 249.15 L214 249.13 L213.5 249.1 L213 249.08 L212.5 249.05 L212 249.02 L211.5 249 L211 248.97 L210.5 248.95 L210 248.92 L209.5 248.82 L209 248.43 L208.5 248.03 L208 247.64 L207.5 247.24 L207 246.85 L206.5 246.45 L206 246.06 L205.5 245.66 L205 245.27 L204.5 244.87 L204 244.48 L203.5 244.08 L203 243.69 L202.5 243.29 L202 242.9 L201.5 242.33 L201 241.76 L200.5 241.18 L200 240.61 L199.5 240.04 L199 239.47 L198.5 238.89 L198 238.32 L197.5 237.75 L197 237.18 L196.5 236.6 L196 236.03 L195.5 235.46 L195 234.89 L194.5 234.31 L194 234.05 L193.5 233.85 L193 233.66 L192.5 233.47 L192 233.28 L191.5 233.09 L191 232.9 L190.5 232.7 L190 232.51 L189.5 232.32 L189 232.13 L188.5 231.94 L188 231.74 L187.5 231.55 L187 231.36 L186.5 231.17 L186 230.98 L185.5 229.8 L185 227.95 L184.5 226.11 L184 224.27 L183.5 222.43 L183 220.59 L182.5 218.75 L182 216.91 L181.5 215.07 L181 214.1 L180.5 213.34 L180 212.58 L179.5 211.83 L179 211.07 L178.5 210.32 L178 209.56 L177.5 208.8 L177 208.15 L176.5 207.89 L176 207.62 L175.5 207.36 L175 207.1 L174.5 206.86 L174 206.61 L173.5 206.37 L173 206.13 L172.5 205.88 L172 205.64 L171.5 205.4 L171 204.85 L170.5 204.11 L170 203.37 L169.5 202.63 L169 201.88 L168.5 201.14 L168 200.4 L167.5 200.1 L167 200.1 L166.5 200.1 L166 200.1 L165.5 200.1 L165 200.1 L164.5 200.1 L164 200.1 L163.5 200.1 L163 200.1 L162.5 200.1 L162 200.1 L161.5 200.1 L161 200.1 L160.5 200.1 L160 200.1 L159.5 200.1 L159 200.1 L158.5 200.1 L158 200.1 L157.5 200.1 L157 200.1 L156.5 200.1 L156 200.1 L155.5 200.1 L155 200.1 L154.5 199.41 L154 198.25 L153.5 197.1 L153 195.95 L152.5 194.79 L152 193.7 L151.5 192.7 L151 191.7 L150.5 190.7 L150 189.7 L149.5 188.7 L149 187.7 L148.5 186.7 L148 185.7 L147.5 184.7 L147 183.7 L146.5 180.38 L146 177.05 L145.5 173.73 L145 172.36 L144.5 172.28 L144 172.21 L143.5 172.13 L143 172.06 L142.5 171.98 L142 171.91 L141.5 171.83 L141 171.76 L140.5 171.69 L140 171.61 L139.5 171.54 L139 171.46 L138.5 171.39 L138 171.31 L137.5 171.24 L137 171.17 L136.5 171.09 L136 171.02 L135.5 170.94 L135 170.87 L134.5 170.79 L134 170.72 L133.5 170.64 L133 170.53 L132.5 170.34 L132 170.15 L131.5 169.97 L131 169.78 L130.5 169.6 L130 169.41 L129.5 169.23 L129 169.04 L128.5 168.85 L128 168.67 L127.5 168.48 L127 168.3 L126.5 168.11 L126 167.51 L125.5 166.28 L125 165.05 L124.5 163.82 L124 162.59 L123.5 161.37 L123 160.14 L122.5 159.31 L122 159.07 L121.5 158.83 L121 158.6 L120.5 158.36 L120 158.12 L119.5 157.89 L119 157.65 L118.5 157.41 L118 157.18 L117.5 156.94 L117 154.05 L116.5 147.16 L116 140.28 L115.5 133.4 L115 125.43 L114.5 117.46 L114 109.48 L113.5 104.46 L113 103.85 L112.5 103.24 L112 102.79 L111.5 102.43 L111 102.08 L110.5 101.72 L110 101.37 L109.5 101.01 L109 100.66 L108.5 100.3 L108 99.95 L107.5 99.6 L107 99.24 L106.5 98.89 L106 98.53 L105.5 98.18 L105 97.82 L104.5 97.47 L104 97.11 L103.5 96.63 L103 95.97 L102.5 95.31 L102 94.64 L101.5 93.98 L101 93.32 L100.5 92.65 L100 91.99 L99.5 91.33 L99 90.66 L98.5 90 L98 89.79 L97.5 89.58 L97 89.37 L96.5 89.16 L96 88.95 L95.5 88.74 L95 88.53 L94.5 88.15 L94 87.53 L93.5 86.91 L93 86.29 L92.5 85.67 L92 85.05 L91.5 84.43 L91 83.81 L90.5 83.19 L90 82.57 L89.5 81.94 L89 81.32 L88.5 80.7 L88 80.08 L87.5 79.46 L87 78.84 L86.5 78.22 L86 77.6 L85.5 76.43 L85 75.25 L84.5 74.08 L84 72.9 L83.5 71.73 L83 70.55 L82.5 69.38 L82 68.2 L81.5 67.42 L81 67.21 L80.5 67 L80 66.8 L79.5 66.59 L79 66.38 L78.5 66.16 L78 65.94 L77.5 65.71 L77 65.48 L76.5 65.25 L76 65.02 L75.5 64.8 L75 64.57 L74.5 64.34 L74 64.11 L73.5 63.89 L73 63.66 L72.5 63.43 L72 63.2 L71.5 62.98 L71 62.75 L70.5 62.52 L70 62.29 L69.5 62.06 L69 61.84 L68.5 61.58 L68 61.27 L67.5 60.96 L67 60.64 L66.5 60.33 L66 60.02 L65.5 59.71 L65 59.4 L64.5 59.09 L64 58.78 L63.5 58.47 L63 58.16 L62.5 58.02 L62 57.92 L61.5 57.82 L61 57.72 L60.5 57.62 L60 57.52 L59.5 57.42 L59 57.32 L58.5 57.22 L58 57.12 L57.5 57.44 L57 57.86 L56.5 58.28 L56 58.7 L55.5 59.12 L55 59.55 L54.5 59.97 L54 60.39 L53.5 60.81 L53 61.23 L52.5 61.45 L52 61.53 L51.5 61.61 L51 61.69 L50.5 61.77 L50 61.85 L49.5 61.93 L49 62.01 L48.5 62.09 L48 62.17 L47.5 62.25 L47 62.33 L46.5 62.41 L46 62.49 L45.5 62.57 L45 62.66 L44.5 62.74 L44 62.8 L43.5 62.8 L43 62.8 L42.5 62.8 L42 62.8 L41.5 62.8 L41 62.8 L40.5 62.8 L40 62.8 L39.5 62.8 L39 62.8 L38.5 62.8 L38 62.8 L37.5 62.8 L37 62.8 L36.5 62.8 L36 62.8 L35.5 62.8 L35 62.8 L34.5 62.8 L34 62.8 L33.5 62.8 L33 62.8 L32.5 62.8 L32 62.8 L31.5 62.8 L31 62.87 L30.5 63.2 L30 63.54 L29.5 63.88 L29 64.22 L28.5 64.55 L28 64.89 L27.5 65.23 L27 65.57 L26.5 65.34 L26 64.73 L25.5 64.12 L25 63.51 L24.5 62.9 L24 62.3 L23.5 61.69 L23 61.08 L22.5 60.47 L22 59.86 L21.5 59.5 L21 59.5 L20.5 59.5 L20 59.5 L19.5 59.5 L19 59.5 L18.5 59.5 L18 59.5 L17.5 59.5 L17 59.5 L16.5 59.5 L16 59.5 L15.5 59.5 L15 59.5 L14.5 59.5 L14 59.5 L13.5 59.5 L13 59.5 L12.5 59.5 L12 59.5 L11.5 59.5 L11 59.5 L10.5 59.5 L10 59.5 L9.5 59.5 L9 59.5 L8.5 59.5 L8 59.5 Z" fill="#0a1a1e"/>
</g>
<path d="M8 615.5 H976 M8 591.5 H976 M8 567.5 H976 M8 544.5 H976 M8 520.5 H976 M8 496.5 H976 M8 472.5 H976 M8 449.5 H976 M8 425.5 H976 M8 401.5 H976 M8 377.5 H976 M8 353.5 H976 M8 330.5 H976 M8 306.5 H976 M8 282.5 H976 M8 258.5 H976 M8 234.5 H976 M8 211.5 H976 M8 187.5 H976 M8 163.5 H976 M8 139.5 H976 M8 116.5 H976 M8 92.5 H976 M8 68.5 H976 M8 44.5 H976 M36.6 21 V624 M100.24 21 V624 M163.89 21 V624 M227.53 21 V624 M291.18 21 V624 M354.82 21 V624 M418.46 21 V624 M482.11 21 V624 M545.75 21 V624 M609.4 21 V624 M673.04 21 V624 M736.68 21 V624 M800.33 21 V624 M863.97 21 V624 M927.62 21 V624" stroke="rgba(160,170,220,0.07)" stroke-width="1" fill="none"/>
<g clip-path="url(#pc)">
<path d="M8 0 L80 0 L85.1 21 L88.1 25.9 L93.9 32.7 L97.8 40.5 L100.8 46.4 L105.7 53.2 L111.5 57.1 L113.5 62 L115.5 90 L116.7 100.4 L117.5 111.7 L121.9 112.2 L126.6 126.1 L145.3 126.1 L149.6 144.1 L160.9 145.2 L175 145.2 L184.7 154.3 L208.5 155 L218.3 156.5 L222.6 167.7 L240 167.7 L244.3 194.4 L249.7 198.4 L254 203.8 L258.4 213.6 L262.7 216.9 L272.5 216.9 L276.8 270 L285.5 270 L290.5 283 L299.3 285 L304.8 291 L309.1 295.4 L316.7 300.8 L321 310.6 L326.4 316.6 L344.9 317.5 L348.8 337.7 L372 338.3 L376.3 342 L381.4 369.4 L390 370.5 L394.4 377 L400.9 378 L408.7 379.9 L431.4 379.9 L440.1 383.1 L444.4 390.3 L449.9 390.7 L458.5 399.8 L470.5 400.5 L475.9 417.8 L483.5 427.6 L508.4 427.6 L513.8 412.8 L527.5 412.8 L531.2 423.2 L538.7 424.3 L545.8 432 L552.3 436.8 L558.8 437.4 L564.3 439 L578.4 439 L590.3 441.1 L595.7 450.5 L600 451.5 L603.9 462.4 L606.5 466.3 L621.7 466.3 L626 477.5 L699.9 477.4 L704.3 489.4 L709.7 491.5 L727 491.5 L731.4 501.3 L749.8 501.3 L755.2 485 L813.7 485 L818.1 452.5 L823.5 448.2 L826 449.1 L858.5 449.1 L868.3 437.2 L880.2 436.1 L886.7 432.9 L891 421.6 L973.4 421.6 L976 413.4" stroke="#bd858c" stroke-width="1.1" fill="none" stroke-linejoin="round"/>
<path d="M8 59.5 L21.7 59.5 L26.8 65.7 L31.1 62.8 L44.1 62.8 L52.8 61.4 L57.9 57.1 L62.9 58.1 L68.7 61.7 L78.8 66.3 L81.7 67.5 L86 77.6 L94.7 88.4 L98.5 90 L103.7 96.9 L112.3 103 L113.7 104.7 L115.5 133.4 L117.2 156.8 L122.7 159.4 L126.2 168 L133.2 170.6 L145.3 172.4 L147 183.7 L152.2 194.1 L154.8 200.1 L167.8 200.1 L171.3 205.3 L175 207.1 L177.1 208.2 L181.4 214.7 L185.8 230.9 L194.4 234.2 L202 242.9 L209.6 248.9 L227 249.8 L231.3 260.2 L240 261.3 L245 289.5 L251.9 298.1 L257.3 307.9 L260 318.4 L262.2 330.4 L273 331.4 L277.3 388.9 L281.7 397.5 L294.7 410.6 L303.4 410.6 L309.9 403 L314.2 403 L319.6 392.1 L322.9 391.5 L327.2 394.3 L334.8 397.1 L344.5 392.8 L351 395.8 L355.4 396.5 L358.6 405.1 L368.4 406.2 L373.8 412.7 L381.4 414.9 L387.9 417 L391.2 416 L396.6 404 L400.9 401.9 L405.2 406.2 L407.6 415.6 L416.3 420 L421.7 420.6 L428.2 426.5 L434.7 429.7 L449.9 431.9 L462.9 431.9 L468.3 422.1 L477 422.1 L483.5 427.1 L493.2 427.6 L501.9 434.1 L508.4 441.6 L512.7 442.7 L525.7 442.7 L530.1 451.4 L535.5 460.1 L540.4 460.6 L550.2 463.5 L556.7 465.6 L565.3 467.8 L571.9 472.1 L576.2 478.6 L580.5 481.9 L593.5 484.1 L600 489.5 L608.7 491.6 L613 497.1 L621.7 498.1 L626 506.8 L632.6 516.6 L639.1 519.8 L647.7 522 L653.1 522 L658.6 504.6 L665 501.4 L672.7 497.1 L675 495.9 L691.3 493.7 L701 484 L718.4 484 L728.1 490.5 L740 491.5 L746.5 489.4 L750.9 484 L755.2 465.5 L761.7 463.4 L768.2 461.2 L771.5 453.6 L779.1 452.1 L787.7 452.1 L794.2 456.9 L802.9 463.4 L813.7 463.4 L818.1 426.5 L826 421.6 L836.8 421.6 L849.8 416.6 L854.2 401.4 L860.7 401.4 L871.5 408.6 L878 409 L881.3 422 L886.7 432.9 L897.5 434 L909.5 438.9 L917 437.2 L923.5 435 L936.6 419.9 L943.1 420.3 L953.9 401.4 L971.2 395.6 L976 385.2" stroke="#8fb292" stroke-width="1.1" fill="none" stroke-linejoin="round"/>
<path d="M8 74.7 L12.3 81.9 L19.6 90.6 L28.2 97.8 L36.9 107.9 L45.6 117.6 L51.4 125.9 L60 137.5 L68.7 147.6 L77.4 156.2 L86 164.2 L94.7 172.1 L101.9 179.4 L108.9 188 L126.2 203.6 L132.3 210 L138 220.7 L150 235.3 L158.7 246.1 L171.7 271 L186.9 290.6 L206.4 306.8 L225.9 318.7 L245.4 330 L260 337.9 L273 347.7 L290.3 361.8 L318.5 380.2 L342.4 391 L355.4 397.5 L381.4 405.1 L400 412.4 L421.7 423.2 L423.2 425 L432.9 430.4 L447 438 L460 444.5 L468.7 448.8 L476.3 450.5 L487.1 456.4 L495 462.4 L499.1 462.3 L516.4 469.9 L533.7 478.5 L540.7 482.9 L556.7 478.6 L574 475.4 L595.7 475.4 L613 477.5 L626 478 L639.1 475.4 L652.1 471 L669.4 467.8 L675 468.8 L700 472 L713 459 L731.4 445 L746.5 439.5 L763.9 437.3 L779.1 442.7 L794.2 444.9 L809.4 441.6 L825 435.3 L836.8 427.4 L847.7 418.8 L860.7 412.3 L878 409 L891 407.9 L901.9 399.3 L917 391.7 L937 382.5" stroke="#006a08" stroke-width="1.6" fill="none" stroke-linejoin="round"/>
<path d="M8 53.7 L16.7 63.8 L25.3 70.3 L34 77.6 L45.6 87.7 L57.1 100.7 L68.7 112.3 L77.4 121.2 L88.9 129.2 L95 135.1 L112.3 150.7 L129.7 168 L147 187.1 L164.4 210 L171.7 219 L184.7 234.2 L204.2 252.6 L225.9 268.9 L247.6 283 L258.4 289.5 L280 307.9 L286 313 L307.7 328.2 L325 339 L346.7 352 L359.7 358.5 L381.4 367.2 L400 375.5 L421.7 388.5 L443.4 401.5 L465 413.5 L486.7 424.3 L508.4 435.1 L530.1 447.1 L538.7 451 L545.8 451.1 L567.5 452.6 L589.2 454.1 L610.9 457 L632.6 459.8 L654.2 458 L669.4 457 L675 458 L700 461.2 L713 452.5 L731.4 445 L746.5 440.6 L761.7 439.2 L779.1 443.2 L794.2 444.9 L809.4 442.7 L825 437.8 L839 431.8 L858.5 423.1 L880.2 418.1 L891 416.8 L901.9 410.1 L921.4 402.5 L937 397" stroke="#aaa000" stroke-width="1.6" fill="none" stroke-linejoin="round"/>
<path d="M8 117.5 L12.3 128.8 L16.7 136 L22.5 141.8 L29.7 147.6 L36.9 159.1 L45.6 170.7 L55.7 185.1 L64.4 196.9 L77.4 217.4 L94.7 231.5 L107.7 242.4 L126.1 259.7 L138 277 L151 298.7 L159 310.8 L165.5 326 L174.2 343.4 L185 358.5 L192.6 366 L198 369.4 L206.7 373.7 L217.5 375.9 L228.4 378 L241.4 379.1 L250 380.2 L256.6 382.4 L263 386.7 L270 392 L281 397.3 L294 407.1 L302.7 411.4 L317.9 421.2 L330.9 425.5 L343.9 429.9 L350.4 432 L359 432 L372 432.5 L382.9 433.1 L393.7 438.5 L403.7 441.3 L413.4 445 L419.9 450.5 L427.5 456.4 L440.5 464 L453.5 470.5 L467.6 477.9 L475.2 477.5 L480.2 480.5 L499 493 L513.5 501.4 L525 505.3 L540.2 510 L546.7 505.3 L560 494.5 L563.2 493.8 L574 486.2 L589.2 484.5 L604.4 480.8 L613 480.8 L626 481.9 L636.9 478.6 L647.7 472.1 L660.7 466.7 L669.4 465.2 L678.1 466.7 L688 469.6 L700 472 L711.9 448.2 L716.2 442.7 L731.4 427.1 L740 424.3 L750.9 420 L761.7 420 L768.2 425.4 L779.1 436.2 L794.2 442.7 L805.1 439.5 L815.9 435.1 L826 428 L836.8 416.6 L847.7 402.5 L858.5 392.8 L869.4 390.6 L891 390.6 L900.2 380.6 L911 373.6 L921.9 368.6 L937 357.8" stroke="#c0c0c8" stroke-width="1.6" fill="none" stroke-linejoin="round"/>
<path d="M8 70.1 L22.5 75 L34 78.3 L45.6 82.6 L60 89.1 L74.5 94.9 L88.9 100.7 L95 102.1 L112.3 110 L129.7 119.5 L147 127.3 L164.4 137.7 L175 145.2 L182.5 150 L193.4 155.4 L215 166.2 L236.7 177 L258.4 187.9 L280 198.7 L295 206.1 L323.2 220.6 L351.4 234.7 L381.7 246.6 L409.9 259.6 L440 274.2 L476.6 291.7 L513.2 308.8 L540.1 322.3 L562.1 328.4 L586.5 336.2 L610.9 343.5 L635.3 349.8 L659.7 355.2 L675 358.2 L688 361.4 L701 364.7 L718.4 364.7 L740 365.8 L761.7 367.9 L783.4 373.4 L805.1 376.6 L820 377.3 L841.7 376.2 L863.4 375.8 L885 376.2 L906.7 375.1 L937 371.9" stroke="#b8000f" stroke-width="1.8" fill="none" stroke-linejoin="round"/>
</g>
<path d="M8 327.5 H976" stroke="#f23645" stroke-width="1" stroke-dasharray="1 1.4" opacity="0.8"/>
<g clip-path="url(#pc)">
<path d="M18.42 222.9 V259.8 M22.96 182.8 V225 M27.51 173 V201.6 M36.6 242 V297 M41.15 239.8 V258.6 M45.69 237 V251 M63.88 277 V282.5 M82.06 277 V298.3 M86.61 256.5 V282.5 M100.24 277 V306.3 M122.97 296 V307 M132.07 337.3 V360.7 M154.8 380 V395.8 M159.34 378 V388.9 M163.89 439 V504 M168.43 427.7 V458.5 M186.62 425 V445.5 M191.16 425 V432.5 M209.35 388.9 V412.7 M213.89 382.4 V395.8 M218.44 382.4 V395.8 M232.08 368.3 V395.4 M236.62 372.6 V380.6 M245.72 374.8 V390.6 M272.99 430.3 V439 M277.54 428 V434.6 M286.63 430.3 V436 M291.18 430.3 V451 M295.72 435.3 V449 M300.27 437.4 V444 M309.36 441.8 V448.3 M323 436.8 V455.9 M336.64 439 V451.5 M341.18 439.6 V447.2 M359.37 420.1 V435.3 M363.91 424.4 V436.8 M368.46 429.4 V441.8 M377.55 427.3 V441.8 M382.1 425 V436.8 M391.19 462.4 V475 M395.73 461.3 V466.3 M400.28 454.3 V464.4 M409.37 454.3 V465.5 M441.19 495.9 V505.6 M445.74 491.5 V501.3 M450.29 491.5 V510.6 M463.92 495.9 V506.3 M473.02 465.5 V506.7 M491.2 527.3 V536.6 M495.75 527.3 V536.6 M500.29 530.1 V536.6 M504.84 525.1 V533.8 M509.38 517.6 V527.3 M518.48 511 V551.2 M532.11 517.6 V533.8 M536.66 517.6 V532.3 M541.21 517.6 V528.4 M545.75 451.5 V488.4 M550.3 446.1 V467.1 M559.39 463.5 V475.4 M563.94 452.6 V466.7 M568.48 444 V457 M573.03 446.1 V455.9 M582.12 480.2 V488.8 M591.21 471 V486.2 M595.76 465.6 V475.4 M600.3 463.5 V471.5 M604.85 462 V468.9 M613.94 478 V494.9 M623.03 471 V488 M632.13 472.1 V480.8 M636.67 467.1 V478.6 M641.22 413 V439 M663.95 444 V457.6 M668.49 435.3 V449.4 M691.22 482.9 V499.1 M695.77 478.5 V493.7 M700.32 480.7 V486.1 M704.86 349.1 V403.7 M723.05 363.6 V389 M727.59 361.4 V371.2 M741.23 404.1 V422.1 M745.78 396.1 V405.4 M763.96 421 V429.7 M768.51 465.5 V494.1 M777.6 486.1 V495.9 M782.14 463.4 V484.6 M786.69 455.8 V473.1 M791.24 447.1 V475.3 M800.33 415.6 V453.6 M804.87 413.5 V424.3 M813.97 396.1 V415.6 M818.51 383.1 V408 M823.06 368.6 V384.5 M832.15 354.5 V401.2 M836.7 341.5 V360 M841.24 341.5 V353.5 M850.33 344.1 V365.4 M877.61 380.6 V393.6 M886.7 391.4 V402.2 M891.25 394 V403.3 M895.79 311.2 V389.7 M918.52 332.9 V350.6 M932.16 318.1 V336.8" stroke="#089981" stroke-width="1" fill="none" opacity="0.8"/>
<path d="M16.52 222.9h3.8v36.4h-3.8z M21.06 203.4h3.8v20.6h-3.8z M25.61 180h3.8v21.6h-3.8z M34.7 251h3.8v46h-3.8z M39.25 246.3h3.8v5.2h-3.8z M43.79 242h3.8v4.3h-3.8z M61.98 277h3.8v1.5h-3.8z M80.16 277h3.8v17.8h-3.8z M84.71 265.8h3.8v11.2h-3.8z M98.34 289.6h3.8v5.2h-3.8z M121.07 301.3h3.8v3.5h-3.8z M130.17 353.8h3.8v5.8h-3.8z M152.9 385h3.8v10h-3.8z M157.44 378h3.8v7.6h-3.8z M161.99 458.5h3.8v41.2h-3.8z M166.53 427.7h3.8v29.9h-3.8z M184.72 427.7h3.8v17.3h-3.8z M189.26 425h3.8v3h-3.8z M207.45 391.5h3.8v20.8h-3.8z M211.99 388.9h3.8v1.1h-3.8z M216.54 387.1h3.8v2.9h-3.8z M230.18 379.8h3.8v15.2h-3.8z M234.72 379.8h3.8v1h-3.8z M243.82 378h3.8v12h-3.8z M271.09 432h3.8v4h-3.8z M275.64 431.6h3.8v1h-3.8z M284.73 432h3.8v3.3h-3.8z M289.28 446.8h3.8v2.2h-3.8z M293.82 441.8h3.8v5.4h-3.8z M298.37 439h3.8v3.9h-3.8z M307.46 446.1h3.8v1.1h-3.8z M321.1 439h3.8v7.8h-3.8z M334.74 446.1h3.8v3.3h-3.8z M339.28 444h3.8v2.8h-3.8z M357.47 429.9h3.8v2.1h-3.8z M362.01 430.3h3.8v1.7h-3.8z M366.56 431.6h3.8v6.5h-3.8z M375.65 430.3h3.8v7.1h-3.8z M380.2 430.3h3.8v2.8h-3.8z M389.29 463.5h3.8v4.9h-3.8z M393.83 465h3.8v1h-3.8z M398.38 458.6h3.8v4.8h-3.8z M407.47 458.6h3.8v5.8h-3.8z M439.29 499.1h3.8v1h-3.8z M443.84 495.9h3.8v3.9h-3.8z M448.39 494.1h3.8v13h-3.8z M462.02 503.5h3.8v1.5h-3.8z M471.12 472h3.8v34.7h-3.8z M489.3 529.5h3.8v1.5h-3.8z M493.85 530.1h3.8v2.6h-3.8z M498.39 530.1h3.8v2.6h-3.8z M502.94 525.1h3.8v7.6h-3.8z M507.48 519.7h3.8v6.1h-3.8z M516.58 515h3.8v31.8h-3.8z M530.21 525.8h3.8v1h-3.8z M534.76 527.3h3.8v1.1h-3.8z M539.31 522.3h3.8v5.7h-3.8z M543.85 458.5h3.8v17.3h-3.8z M548.4 455.9h3.8v3.9h-3.8z M557.49 467.8h3.8v1.1h-3.8z M562.04 453.7h3.8v12.6h-3.8z M566.58 452h3.8v2.1h-3.8z M571.13 446.1h3.8v8.7h-3.8z M580.22 480.2h3.8v2.8h-3.8z M589.31 472.1h3.8v13.7h-3.8z M593.86 470h3.8v2.8h-3.8z M598.4 467.8h3.8v3.2h-3.8z M602.95 462.8h3.8v5.6h-3.8z M612.04 489.5h3.8v4.3h-3.8z M621.13 472.1h3.8v15.2h-3.8z M630.23 475.4h3.8v3.2h-3.8z M634.77 467.8h3.8v10.2h-3.8z M639.32 430.3h3.8v5h-3.8z M662.05 449h3.8v8h-3.8z M666.59 441.8h3.8v7.2h-3.8z M689.32 487.6h3.8v6.1h-3.8z M693.87 480.3h3.8v7.3h-3.8z M698.42 482.4h3.8v1.5h-3.8z M702.96 353.8h3.8v48.8h-3.8z M721.15 367.3h3.8v20.8h-3.8z M725.69 362.5h3.8v8.3h-3.8z M739.33 404.1h3.8v10h-3.8z M743.88 396.8h3.8v8h-3.8z M762.06 422.8h3.8v2.6h-3.8z M766.61 482.4h3.8v11.7h-3.8z M775.7 491.1h3.8v1h-3.8z M780.24 472.5h3.8v10.8h-3.8z M784.79 472h3.8v1h-3.8z M789.34 451.4h3.8v19.5h-3.8z M798.43 422.5h3.8v13h-3.8z M802.97 413.5h3.8v10.1h-3.8z M812.07 406.3h3.8v5h-3.8z M816.61 385.3h3.8v21.7h-3.8z M821.16 377.8h3.8v5.3h-3.8z M830.25 358.9h3.8v40.7h-3.8z M834.8 351.3h3.8v8h-3.8z M839.34 346.3h3.8v5.6h-3.8z M848.43 344.1h3.8v20.2h-3.8z M875.71 384.9h3.8v3.2h-3.8z M884.8 396.8h3.8v2.8h-3.8z M889.35 395.3h3.8v1h-3.8z M893.89 315.5h3.8v73.7h-3.8z M916.62 342h3.8v2.8h-3.8z M930.26 318.1h3.8v5h-3.8z" fill="#089981"/>
<path d="M9.32 229.4 V251 M13.87 240 V262 M32.05 180 V208.8 M50.24 253 V270 M54.78 251 V267.3 M59.33 263.6 V286.8 M68.42 259.3 V303.5 M72.97 277 V296 M77.51 287.5 V298.3 M91.15 260.8 V270.5 M95.7 263.6 V274.9 M104.79 277 V295.5 M109.34 289.6 V299.8 M113.88 296.6 V304.2 M118.43 296.6 V306.3 M127.52 298.7 V307.4 M136.61 348.8 V365 M141.16 361 V377.6 M145.7 378 V391.5 M150.25 382.4 V395.4 M172.98 420 V439 M177.53 428 V446 M182.07 433 V446 M195.71 351.6 V408.4 M200.26 396.5 V417 M204.8 404 V412.7 M222.99 382.4 V395.8 M227.53 375.9 V403.6 M241.17 385 V398.6 M250.26 372.6 V388.9 M254.81 374.8 V385 M259.35 415.8 V429.9 M263.9 420.1 V429.9 M268.45 427.7 V436 M282.08 428 V436.8 M304.81 437.4 V446.1 M313.91 439 V453.7 M318.45 449.4 V462 M327.54 436.8 V444 M332.09 439.6 V447.2 M345.73 441.8 V450.5 M350.27 449 V459.8 M354.82 395.6 V441.8 M373 428 V439.6 M386.64 451.5 V469.3 M404.83 456.4 V463.8 M413.92 456.9 V461.2 M418.46 462.9 V493.7 M423.01 487.6 V495.9 M427.56 489.8 V494.8 M432.1 489.4 V495.9 M436.65 491.5 V499.1 M454.83 489.4 V505.6 M459.38 499.1 V506.3 M468.47 501.9 V506.7 M477.56 463.4 V478.1 M482.11 496.3 V527.3 M486.65 517.6 V531 M513.93 530.1 V557.7 M523.02 508.4 V519.7 M527.57 517.6 V529.5 M554.84 456.3 V464.5 M577.57 467.8 V485.1 M586.67 475.4 V485.8 M609.4 485.1 V501.4 M618.49 485.1 V492.7 M627.58 470.6 V479.7 M645.76 418 V442.9 M650.31 430.3 V445 M654.86 437.4 V447.2 M659.4 441.8 V459.1 M673.04 439 V475.4 M677.59 465.5 V484 M682.13 472.5 V491.5 M686.68 486.1 V503.5 M709.41 339.1 V358.2 M713.95 346.3 V360.3 M718.5 356.4 V394 M732.14 363 V379.9 M736.68 398.9 V422.1 M750.32 394 V406.3 M754.87 398.9 V419.3 M759.41 415.6 V427.6 M773.05 480.7 V494.8 M795.78 448.2 V458 M809.42 413.5 V419.3 M827.6 378.4 V393.1 M845.79 349.1 V367.6 M854.88 342 V358.4 M859.43 346.3 V369.7 M863.97 318.1 V374 M868.52 368.6 V382.3 M873.06 378 V386.6 M882.16 380.6 V400.1 M900.34 298.6 V326.8 M904.89 316 V334.6 M909.43 332.9 V350.6 M913.98 342 V350.6 M923.07 339.4 V348.5 M927.62 276.9 V329.6 M936.71 316 V332.4" stroke="#f23645" stroke-width="1" fill="none" opacity="0.8"/>
<path d="M7.42 239h3.8v6.6h-3.8z M11.97 242h3.8v19.5h-3.8z M30.15 182.8h3.8v18.8h-3.8z M48.34 256.5h3.8v2.8h-3.8z M52.88 256.5h3.8v7.5h-3.8z M57.43 263.6h3.8v14.4h-3.8z M66.52 268h3.8v13.4h-3.8z M71.07 277h3.8v11h-3.8z M75.61 287.5h3.8v6.9h-3.8z M89.25 265.8h3.8v2.6h-3.8z M93.8 265.8h3.8v2.6h-3.8z M102.89 289.6h3.8v2.6h-3.8z M107.44 291.8h3.8v7.4h-3.8z M111.98 298.7h3.8v3.3h-3.8z M116.53 300.9h3.8v3.9h-3.8z M125.62 300.9h3.8v6.1h-3.8z M134.71 356.4h3.8v7.6h-3.8z M139.26 362.9h3.8v13h-3.8z M143.8 378h3.8v9.8h-3.8z M148.35 387h3.8v8h-3.8z M171.08 427.7h3.8v8.3h-3.8z M175.63 434.6h3.8v5h-3.8z M180.17 439.6h3.8v5.4h-3.8z M193.81 353.8h3.8v45.5h-3.8z M198.36 398.6h3.8v10.9h-3.8z M202.9 408.4h3.8v3.2h-3.8z M221.09 387.1h3.8v2.9h-3.8z M225.63 378.5h3.8v16.5h-3.8z M239.27 385h3.8v5h-3.8z M248.36 378.5h3.8v2.1h-3.8z M252.91 380.2h3.8v3.3h-3.8z M257.45 417.3h3.8v3.5h-3.8z M262 420.1h3.8v5.4h-3.8z M266.55 427.7h3.8v7.6h-3.8z M280.18 430.3h3.8v5.7h-3.8z M302.91 439.6h3.8v5.4h-3.8z M312.01 444h3.8v8.6h-3.8z M316.55 451.5h3.8v9.8h-3.8z M325.64 439h3.8v3.4h-3.8z M330.19 439.6h3.8v7.2h-3.8z M343.83 441.8h3.8v7.2h-3.8z M348.37 449h3.8v10h-3.8z M352.92 413h3.8v18h-3.8z M371.1 434.6h3.8v3.5h-3.8z M384.74 454.1h3.8v14.3h-3.8z M402.93 456.4h3.8v7h-3.8z M412.02 456.9h3.8v2.6h-3.8z M416.56 465.1h3.8v24.7h-3.8z M421.11 488.9h3.8v3.1h-3.8z M425.66 491.1h3.8v3h-3.8z M430.2 491.1h3.8v3h-3.8z M434.75 491.5h3.8v5.5h-3.8z M452.93 493.7h3.8v8.7h-3.8z M457.48 501.3h3.8v3.2h-3.8z M466.57 503.5h3.8v3.2h-3.8z M475.66 472h3.8v4.4h-3.8z M480.21 508.4h3.8v9.6h-3.8z M484.75 517.6h3.8v13h-3.8z M512.03 532.3h3.8v12.3h-3.8z M521.12 515h3.8v3.6h-3.8z M525.67 517.6h3.8v10.8h-3.8z M552.94 456.3h3.8v7.8h-3.8z M575.67 472.1h3.8v13h-3.8z M584.77 479.7h3.8v5.4h-3.8z M607.5 489.5h3.8v2.1h-3.8z M616.59 489.5h3.8v2.8h-3.8z M625.68 475.4h3.8v2.6h-3.8z M643.86 430.3h3.8v11.5h-3.8z M648.41 441.8h3.8v2.8h-3.8z M652.96 444h3.8v2.8h-3.8z M657.5 446.1h3.8v12.4h-3.8z M671.14 454.1h3.8v15.9h-3.8z M675.69 468.1h3.8v4.4h-3.8z M680.23 472.5h3.8v15.1h-3.8z M684.78 488.9h3.8v3.7h-3.8z M707.51 354.3h3.8v2.8h-3.8z M712.05 354.3h3.8v5h-3.8z M716.6 358.2h3.8v29.9h-3.8z M730.24 363h3.8v5.6h-3.8z M734.78 404.1h3.8v10h-3.8z M748.42 396.8h3.8v5.2h-3.8z M752.97 398.9h3.8v20h-3.8z M757.51 417.8h3.8v7.6h-3.8z M771.15 484.6h3.8v10.2h-3.8z M793.88 448.2h3.8v9.1h-3.8z M807.52 415.6h3.8v3.3h-3.8z M825.7 379.5h3.8v13h-3.8z M843.89 350.6h3.8v11.5h-3.8z M852.98 346.3h3.8v5.6h-3.8z M857.53 351.3h3.8v5.4h-3.8z M862.07 368h3.8v5.6h-3.8z M866.62 375.1h3.8v5.9h-3.8z M871.16 380.1h3.8v3.1h-3.8z M880.26 384.9h3.8v14.1h-3.8z M898.44 316h3.8v4.9h-3.8z M902.99 318.1h3.8v13h-3.8z M907.53 332.9h3.8v11.9h-3.8z M912.08 342h3.8v5h-3.8z M921.17 344.1h3.8v3.5h-3.8z M925.72 282.6h3.8v40.5h-3.8z M934.81 318.1h3.8v9.3h-3.8z" fill="#f23645"/>
</g>
<path d="M342.9 618V610Q342.9 608 344.9 608H354.1Q356.1 608 356.1 610V618L349.5 622Z" fill="#07070c" stroke="#d8303f" stroke-width="2" stroke-linejoin="round"/>
<text x="347.3" y="617.4" textLength="4.8" lengthAdjust="spacingAndGlyphs" font-family="Liberation Sans, sans-serif" font-weight="bold" font-size="9" fill="#d8303f">E</text>
</g></svg>
<div class="hs" style="left:14px;transform:scaleX(0.888)">メタプラネット · 1時間 · TSE</div>
<div class="hs" style="left:139.6px;transform:scaleX(0.94)">始値<span class="v">385</span></div>
<div class="hs" style="left:180.7px;transform:scaleX(0.951)">高値<span class="v">386</span></div>
<div class="hs" style="left:221.6px;transform:scaleX(0.933)">安値<span class="v">379</span></div>
<div class="hs" style="left:261.7px;transform:scaleX(0.911)">終値<span class="v">381</span></div>
<div class="hs v" style="left:301.8px;transform:scaleX(0.967)">−4 (−1.04%)</div>
<div class="yl" style="top:609.01px">260</div>
<div class="yl" style="top:585.23px">270</div>
<div class="yl" style="top:561.44px">280</div>
<div class="yl" style="top:537.66px">290</div>
<div class="yl" style="top:513.88px">300</div>
<div class="yl" style="top:490.09px">310</div>
<div class="yl" style="top:466.31px">320</div>
<div class="yl" style="top:442.53px">330</div>
<div class="yl" style="top:418.75px">340</div>
<div class="yl" style="top:394.96px">350</div>
<div class="yl" style="top:371.18px">360</div>
<div class="yl" style="top:347.4px">370</div>
<div class="yl" style="top:299.83px">390</div>
<div class="yl" style="top:276.05px">400</div>
<div class="yl" style="top:252.26px">410</div>
<div class="yl" style="top:228.48px">420</div>
<div class="yl" style="top:204.7px">430</div>
<div class="yl" style="top:180.91px">440</div>
<div class="yl" style="top:157.13px">450</div>
<div class="yl" style="top:133.35px">460</div>
<div class="yl" style="top:109.57px">470</div>
<div class="yl" style="top:85.78px">480</div>
<div class="yl" style="top:62px">490</div>
<div class="xl b" style="left:16.6px">2月</div><div class="xl" style="left:80.24px">4</div><div class="xl" style="left:143.89px">6</div><div class="xl" style="left:207.53px">10</div><div class="xl" style="left:271.18px">13</div><div class="xl" style="left:334.82px">17</div><div class="xl" style="left:398.46px">19</div><div class="xl" style="left:462.11px">24</div><div class="xl" style="left:525.75px">26</div><div class="xl b" style="left:589.4px">3月</div><div class="xl" style="left:653.04px">4</div><div class="xl" style="left:716.68px">6</div><div class="xl" style="left:780.33px">10</div><div class="xl" style="left:843.97px">12</div><div class="xl" style="left:907.62px">16</div>
<div style="position:absolute;left:976px;top:46.3px;width:40px;height:2.4px;overflow:hidden"><div class="yl" style="left:7.6px;top:-8.1px">500</div></div>
<div class="jpy"></div><div class="jpyt">JPY</div>
<div class="pl">381</div>
<svg width="26" height="14" viewBox="0 0 26 14" style="position:absolute;left:9px;top:662px">
<path d="M0.1 0.8H9.2V12.4H4.9V5.4H0.1Z" fill="#dcdcdc"/><circle cx="13.26" cy="3.2" r="2" fill="#dcdcdc"/><path d="M17.5 0.8H22.9L19.3 12.4H13.4Z" fill="#dcdcdc"/>
</svg>
<div class="logo">TradingView</div>
</body></html>
